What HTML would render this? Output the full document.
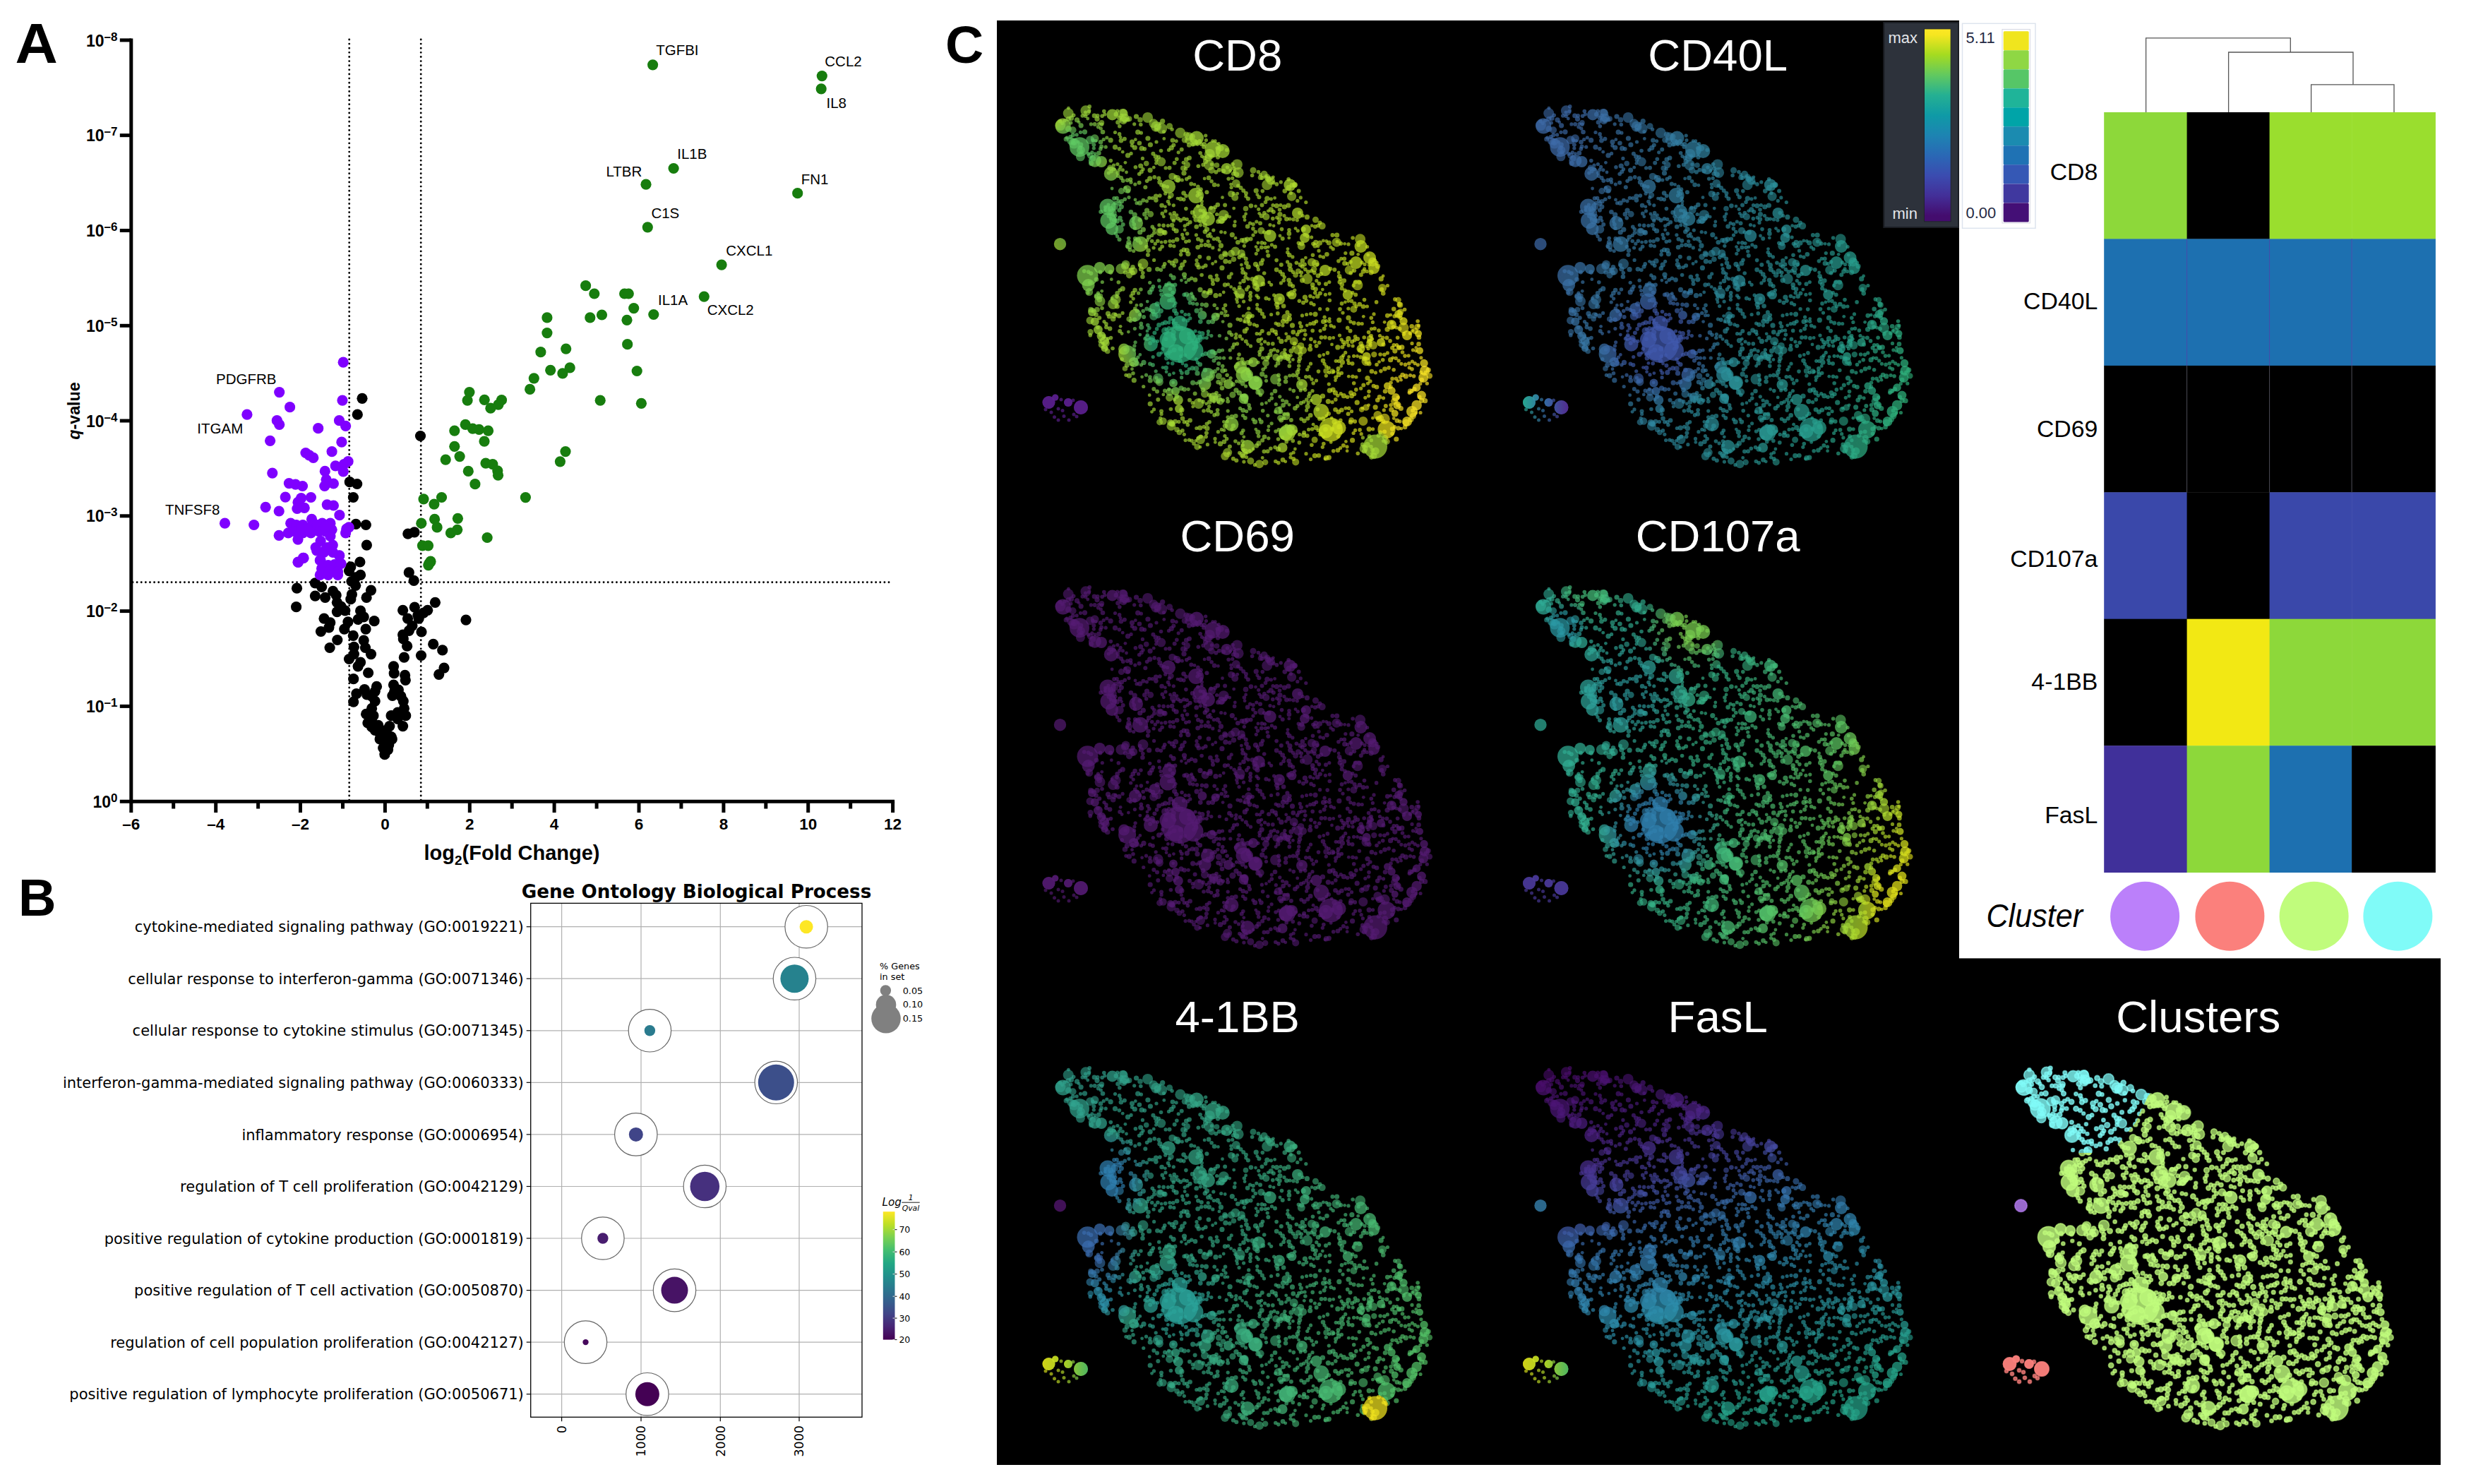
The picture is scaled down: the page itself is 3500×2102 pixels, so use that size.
<!DOCTYPE html>
<html><head><meta charset="utf-8"><title>Figure</title>
<style>html,body{margin:0;padding:0;background:#fff}svg{display:block}text{font-family:"Liberation Sans",Arial,Helvetica,sans-serif}.dj{font-family:"DejaVu Sans","Liberation Sans",sans-serif}</style></head><body>
<svg width="3500" height="2102" viewBox="0 0 3500 2102">
<rect width="3500" height="2102" fill="#fff"/>
<defs><linearGradient id="virV" x1="0" y1="1" x2="0" y2="0"><stop offset="0" stop-color="#440154"/><stop offset="0.1" stop-color="#482475"/><stop offset="0.2" stop-color="#414487"/><stop offset="0.3" stop-color="#355f8d"/><stop offset="0.4" stop-color="#2a788e"/><stop offset="0.5" stop-color="#21918c"/><stop offset="0.6" stop-color="#22a884"/><stop offset="0.7" stop-color="#44bf70"/><stop offset="0.8" stop-color="#7ad151"/><stop offset="0.9" stop-color="#bddf26"/><stop offset="1" stop-color="#fde725"/></linearGradient>
<linearGradient id="mapV" x1="0" y1="0" x2="0" y2="1"><stop offset="0" stop-color="#fde725"/><stop offset="0.030" stop-color="#f6e620"/><stop offset="0.134" stop-color="#a5db20"/><stop offset="0.239" stop-color="#62c95f"/><stop offset="0.343" stop-color="#25b092"/><stop offset="0.448" stop-color="#0f9aa6"/><stop offset="0.552" stop-color="#1d84b2"/><stop offset="0.657" stop-color="#2a68b5"/><stop offset="0.761" stop-color="#3b4cb0"/><stop offset="0.866" stop-color="#432f98"/><stop offset="0.970" stop-color="#440c6e"/></linearGradient>
<g id="dots" fill="#fff"><g fill-opacity=".66"><circle cx="1735.5" cy="432.3" r="2.8"/><circle cx="1733.1" cy="437.2" r="2.6"/><circle cx="1736.0" cy="441.2" r="2.6"/><circle cx="1739.0" cy="446.8" r="2.4"/><circle cx="1735.8" cy="524.5" r="2.6"/><circle cx="1741.7" cy="370.9" r="2.8"/><circle cx="1735.9" cy="370.2" r="3.6"/><circle cx="1788.1" cy="623.8" r="3.0"/><circle cx="1552.1" cy="199.5" r="2.4"/><circle cx="1548.0" cy="198.7" r="2.8"/><circle cx="1694.6" cy="509.1" r="2.8"/><circle cx="1696.4" cy="513.6" r="2.6"/><circle cx="1699.7" cy="516.3" r="3.3"/><circle cx="1625.9" cy="196.0" r="3.6"/><circle cx="1732.9" cy="242.2" r="3.3"/><circle cx="1608.0" cy="282.9" r="2.4"/><circle cx="1610.1" cy="287.7" r="2.6"/><circle cx="1614.6" cy="287.5" r="3.6"/><circle cx="1619.4" cy="283.8" r="3.0"/><circle cx="1624.4" cy="284.8" r="2.6"/><circle cx="1628.0" cy="280.5" r="2.8"/><circle cx="1807.3" cy="572.7" r="2.6"/><circle cx="1616.3" cy="458.4" r="2.8"/><circle cx="1616.7" cy="463.5" r="3.6"/><circle cx="1550.0" cy="163.9" r="3.3"/><circle cx="1554.0" cy="168.6" r="3.6"/><circle cx="1616.3" cy="432.1" r="2.8"/><circle cx="1609.9" cy="432.3" r="2.4"/><circle cx="1607.8" cy="437.0" r="2.8"/><circle cx="1610.8" cy="440.5" r="3.0"/><circle cx="1614.7" cy="445.7" r="2.6"/><circle cx="1620.1" cy="449.1" r="3.0"/><circle cx="1513.4" cy="153.2" r="2.4"/><circle cx="1887.0" cy="607.6" r="3.0"/><circle cx="1974.2" cy="592.6" r="2.4"/><circle cx="1978.8" cy="595.7" r="3.3"/><circle cx="1982.9" cy="596.9" r="2.6"/><circle cx="1882.3" cy="344.0" r="3.6"/><circle cx="1878.7" cy="341.5" r="2.4"/><circle cx="1874.3" cy="341.0" r="2.4"/><circle cx="1869.4" cy="344.2" r="3.6"/><circle cx="1863.7" cy="343.3" r="3.6"/><circle cx="1860.0" cy="345.3" r="2.8"/><circle cx="1770.6" cy="532.2" r="3.6"/><circle cx="1768.1" cy="528.2" r="3.3"/><circle cx="1767.4" cy="523.5" r="3.3"/><circle cx="1601.3" cy="254.3" r="3.0"/><circle cx="1596.9" cy="255.3" r="3.0"/><circle cx="1873.3" cy="633.3" r="2.6"/><circle cx="1874.8" cy="628.6" r="2.8"/><circle cx="1771.5" cy="490.2" r="2.6"/><circle cx="1767.3" cy="487.6" r="2.4"/><circle cx="1764.8" cy="483.4" r="3.0"/><circle cx="1759.5" cy="480.4" r="2.4"/><circle cx="1756.3" cy="476.4" r="2.8"/><circle cx="1750.4" cy="478.5" r="2.8"/><circle cx="1552.7" cy="419.7" r="2.8"/><circle cx="1555.4" cy="415.1" r="2.6"/><circle cx="1560.7" cy="412.3" r="2.4"/><circle cx="1678.7" cy="503.1" r="2.6"/><circle cx="1672.9" cy="504.8" r="2.8"/><circle cx="1671.4" cy="511.0" r="3.3"/><circle cx="1675.0" cy="515.0" r="2.4"/><circle cx="1679.9" cy="517.7" r="3.0"/><circle cx="1603.8" cy="515.8" r="3.3"/><circle cx="1780.5" cy="551.3" r="2.4"/><circle cx="1781.9" cy="555.4" r="3.6"/><circle cx="1785.4" cy="559.3" r="2.8"/><circle cx="1673.0" cy="549.8" r="3.6"/><circle cx="1612.6" cy="415.2" r="2.6"/><circle cx="1615.9" cy="410.0" r="2.8"/><circle cx="1944.6" cy="607.8" r="2.6"/><circle cx="1939.2" cy="607.8" r="3.6"/><circle cx="1762.5" cy="455.7" r="2.4"/><circle cx="1921.1" cy="433.9" r="2.6"/><circle cx="1925.8" cy="431.0" r="3.3"/><circle cx="1931.0" cy="434.2" r="3.3"/><circle cx="1936.4" cy="434.0" r="2.6"/><circle cx="1633.2" cy="505.6" r="2.6"/><circle cx="1666.1" cy="327.0" r="3.6"/><circle cx="1662.4" cy="324.5" r="2.8"/><circle cx="1660.1" cy="319.1" r="3.3"/><circle cx="1654.4" cy="319.6" r="2.6"/><circle cx="1648.1" cy="319.4" r="2.8"/><circle cx="1641.9" cy="318.8" r="2.6"/><circle cx="1926.1" cy="608.9" r="2.8"/><circle cx="1919.6" cy="609.4" r="2.6"/><circle cx="1917.1" cy="613.5" r="2.6"/><circle cx="1937.7" cy="361.1" r="2.4"/><circle cx="1685.0" cy="566.8" r="3.0"/><circle cx="1689.4" cy="570.7" r="2.8"/><circle cx="1689.7" cy="576.1" r="2.4"/><circle cx="1768.7" cy="436.9" r="2.6"/><circle cx="1545.4" cy="175.9" r="2.6"/><circle cx="1550.7" cy="176.1" r="3.0"/><circle cx="1556.3" cy="175.3" r="2.4"/><circle cx="1560.5" cy="176.2" r="2.8"/><circle cx="1888.2" cy="352.7" r="2.6"/><circle cx="1885.0" cy="350.0" r="2.6"/><circle cx="1952.9" cy="468.1" r="2.8"/><circle cx="1947.0" cy="465.3" r="2.8"/><circle cx="1942.5" cy="465.8" r="2.6"/><circle cx="1864.5" cy="539.1" r="2.6"/><circle cx="1684.0" cy="472.9" r="2.8"/><circle cx="1684.6" cy="478.7" r="3.0"/><circle cx="1688.5" cy="482.2" r="2.6"/><circle cx="1692.0" cy="485.9" r="3.6"/><circle cx="1694.2" cy="491.3" r="3.3"/><circle cx="1691.0" cy="494.1" r="2.6"/><circle cx="1598.7" cy="337.5" r="2.8"/><circle cx="1765.0" cy="642.1" r="2.6"/><circle cx="1770.1" cy="638.6" r="2.6"/><circle cx="1775.2" cy="635.9" r="2.4"/><circle cx="1779.8" cy="631.4" r="3.3"/><circle cx="1782.9" cy="627.9" r="3.6"/><circle cx="1646.1" cy="349.3" r="2.8"/><circle cx="1643.0" cy="353.0" r="2.8"/><circle cx="1806.5" cy="470.0" r="3.3"/><circle cx="1802.0" cy="467.9" r="3.3"/><circle cx="1797.1" cy="472.3" r="3.0"/><circle cx="1723.3" cy="390.0" r="2.6"/><circle cx="1724.2" cy="395.8" r="3.6"/><circle cx="1684.6" cy="223.7" r="3.3"/><circle cx="1680.3" cy="225.9" r="3.3"/><circle cx="1676.2" cy="230.3" r="2.6"/><circle cx="1969.9" cy="547.9" r="2.8"/><circle cx="1970.0" cy="542.1" r="2.8"/><circle cx="1972.1" cy="536.4" r="2.8"/><circle cx="1977.5" cy="536.2" r="2.8"/><circle cx="1980.0" cy="539.7" r="2.4"/><circle cx="1984.5" cy="538.2" r="2.4"/><circle cx="1787.8" cy="469.0" r="3.0"/><circle cx="1784.5" cy="472.8" r="2.6"/><circle cx="1780.1" cy="472.7" r="2.6"/><circle cx="1940.8" cy="540.0" r="2.8"/><circle cx="1937.5" cy="543.1" r="2.6"/><circle cx="1931.3" cy="545.5" r="3.0"/><circle cx="1927.6" cy="550.2" r="2.6"/><circle cx="1536.5" cy="186.8" r="3.6"/><circle cx="1530.5" cy="187.3" r="2.6"/><circle cx="1525.1" cy="190.9" r="2.6"/><circle cx="1519.8" cy="191.3" r="3.0"/><circle cx="1516.2" cy="194.1" r="3.0"/><circle cx="1511.3" cy="195.2" r="2.6"/><circle cx="1811.3" cy="608.7" r="2.8"/><circle cx="1807.1" cy="611.0" r="2.8"/><circle cx="1806.0" cy="554.0" r="3.3"/><circle cx="1801.3" cy="558.1" r="2.6"/><circle cx="1801.3" cy="564.1" r="2.8"/><circle cx="1797.8" cy="567.4" r="2.4"/><circle cx="1793.4" cy="570.7" r="2.4"/><circle cx="1787.4" cy="572.2" r="2.6"/><circle cx="1785.0" cy="316.3" r="3.0"/><circle cx="1779.8" cy="314.0" r="2.6"/><circle cx="1719.4" cy="510.8" r="3.0"/><circle cx="1723.0" cy="507.1" r="3.0"/><circle cx="1728.0" cy="507.2" r="2.6"/><circle cx="1733.5" cy="507.2" r="2.6"/><circle cx="1713.3" cy="569.5" r="3.3"/><circle cx="1719.6" cy="569.2" r="2.4"/><circle cx="1725.5" cy="569.2" r="2.6"/><circle cx="1583.9" cy="249.2" r="2.8"/><circle cx="1583.2" cy="245.0" r="2.8"/><circle cx="1585.3" cy="240.5" r="2.6"/><circle cx="1620.0" cy="513.4" r="3.6"/><circle cx="1616.5" cy="516.8" r="2.6"/><circle cx="1610.3" cy="514.8" r="3.6"/><circle cx="1608.5" cy="509.8" r="3.3"/><circle cx="1611.8" cy="506.0" r="2.6"/><circle cx="1614.8" cy="502.4" r="2.4"/><circle cx="1917.7" cy="542.7" r="2.8"/><circle cx="1625.9" cy="361.0" r="3.0"/><circle cx="1889.5" cy="463.0" r="2.6"/><circle cx="1885.2" cy="461.2" r="2.8"/><circle cx="1883.2" cy="455.3" r="2.6"/><circle cx="1878.4" cy="454.6" r="2.6"/><circle cx="1876.1" cy="449.2" r="2.6"/><circle cx="1914.9" cy="358.7" r="3.6"/><circle cx="1660.1" cy="183.2" r="2.6"/><circle cx="1740.5" cy="642.0" r="2.4"/><circle cx="1747.7" cy="295.1" r="2.4"/><circle cx="1877.5" cy="608.3" r="3.3"/><circle cx="2002.6" cy="532.8" r="2.8"/><circle cx="1997.6" cy="531.6" r="2.6"/><circle cx="1991.3" cy="532.9" r="3.6"/><circle cx="1986.6" cy="531.1" r="3.3"/><circle cx="1983.1" cy="533.9" r="2.6"/><circle cx="1725.6" cy="541.2" r="3.3"/><circle cx="1729.3" cy="543.8" r="2.8"/><circle cx="1731.0" cy="549.7" r="3.3"/><circle cx="1826.3" cy="518.4" r="2.8"/><circle cx="1826.9" cy="512.7" r="2.4"/><circle cx="1824.6" cy="508.7" r="2.8"/><circle cx="1824.0" cy="504.3" r="3.3"/><circle cx="1820.1" cy="501.2" r="2.8"/><circle cx="1819.8" cy="495.5" r="2.6"/><circle cx="1653.6" cy="264.5" r="2.6"/><circle cx="1649.0" cy="263.6" r="2.8"/><circle cx="1645.0" cy="262.0" r="2.8"/><circle cx="1642.9" cy="258.0" r="3.6"/><circle cx="1641.3" cy="252.4" r="3.0"/><circle cx="1635.2" cy="250.9" r="2.8"/><circle cx="1975.9" cy="423.9" r="2.8"/><circle cx="1812.8" cy="561.8" r="2.6"/><circle cx="1816.6" cy="567.0" r="2.6"/><circle cx="1821.9" cy="569.4" r="3.3"/><circle cx="1826.1" cy="573.3" r="2.4"/><circle cx="1673.7" cy="211.7" r="3.0"/><circle cx="1669.2" cy="215.8" r="2.6"/><circle cx="1972.0" cy="614.2" r="2.8"/><circle cx="1972.1" cy="607.6" r="3.3"/><circle cx="1975.5" cy="604.7" r="2.6"/><circle cx="1980.6" cy="606.5" r="3.3"/><circle cx="1984.9" cy="607.1" r="2.4"/><circle cx="1990.1" cy="604.9" r="3.3"/><circle cx="1762.3" cy="348.3" r="2.6"/><circle cx="1657.7" cy="347.7" r="3.0"/><circle cx="1662.9" cy="348.7" r="2.6"/><circle cx="1796.4" cy="609.3" r="2.6"/><circle cx="1624.5" cy="298.1" r="3.6"/><circle cx="1621.4" cy="303.4" r="3.3"/><circle cx="1623.7" cy="308.8" r="2.8"/><circle cx="1760.0" cy="625.0" r="2.8"/><circle cx="1761.8" cy="618.8" r="2.4"/><circle cx="1758.7" cy="613.4" r="3.0"/><circle cx="1760.8" cy="609.7" r="2.8"/><circle cx="1840.8" cy="301.6" r="2.8"/><circle cx="1845.2" cy="305.5" r="2.6"/><circle cx="1851.4" cy="307.4" r="3.6"/><circle cx="1878.0" cy="402.2" r="3.0"/><circle cx="1882.8" cy="399.5" r="2.6"/><circle cx="1849.8" cy="286.6" r="2.6"/><circle cx="1813.9" cy="290.5" r="2.6"/><circle cx="1812.5" cy="297.0" r="2.8"/><circle cx="1894.2" cy="342.1" r="2.6"/><circle cx="1899.2" cy="345.0" r="3.0"/><circle cx="1904.6" cy="345.3" r="2.4"/><circle cx="1910.0" cy="345.9" r="2.6"/><circle cx="1850.5" cy="426.1" r="2.8"/><circle cx="1848.4" cy="421.0" r="3.6"/><circle cx="1733.4" cy="597.5" r="2.4"/><circle cx="1735.4" cy="603.3" r="3.6"/><circle cx="1733.9" cy="609.4" r="2.4"/><circle cx="1797.5" cy="423.8" r="2.4"/><circle cx="1793.4" cy="422.6" r="3.0"/><circle cx="1766.5" cy="339.1" r="3.6"/><circle cx="1771.6" cy="338.4" r="3.0"/><circle cx="1896.8" cy="453.4" r="3.6"/><circle cx="1790.7" cy="387.0" r="2.8"/><circle cx="1580.1" cy="445.4" r="2.6"/><circle cx="1856.2" cy="588.3" r="3.3"/><circle cx="1852.4" cy="592.7" r="3.0"/><circle cx="1882.3" cy="544.1" r="2.6"/><circle cx="1905.0" cy="411.4" r="2.8"/><circle cx="1605.7" cy="355.5" r="2.6"/><circle cx="1600.5" cy="353.8" r="3.0"/><circle cx="1596.9" cy="349.2" r="2.6"/><circle cx="1598.9" cy="343.3" r="3.6"/><circle cx="1609.5" cy="165.0" r="3.6"/><circle cx="1851.6" cy="617.3" r="3.0"/><circle cx="1847.1" cy="612.7" r="3.0"/><circle cx="1698.8" cy="313.0" r="2.8"/><circle cx="1694.0" cy="311.1" r="3.6"/><circle cx="1691.6" cy="306.6" r="2.8"/><circle cx="1689.1" cy="301.1" r="3.3"/><circle cx="1631.5" cy="583.3" r="2.4"/><circle cx="1634.5" cy="579.9" r="2.6"/><circle cx="1654.4" cy="514.4" r="2.4"/><circle cx="1660.7" cy="514.7" r="2.8"/><circle cx="1593.7" cy="385.7" r="3.0"/><circle cx="1604.6" cy="386.6" r="3.3"/><circle cx="1602.3" cy="382.9" r="3.6"/><circle cx="1604.5" cy="378.3" r="3.3"/><circle cx="1764.6" cy="302.9" r="2.4"/><circle cx="1762.4" cy="307.0" r="2.8"/><circle cx="1763.1" cy="311.7" r="2.4"/><circle cx="1965.3" cy="499.9" r="2.6"/><circle cx="1960.9" cy="502.2" r="2.8"/><circle cx="1955.1" cy="502.0" r="2.8"/><circle cx="1825.6" cy="396.7" r="3.3"/><circle cx="1827.3" cy="402.4" r="3.6"/><circle cx="1831.2" cy="405.2" r="3.0"/><circle cx="1833.9" cy="411.0" r="2.6"/><circle cx="1830.4" cy="416.6" r="2.6"/><circle cx="1825.5" cy="416.7" r="3.6"/><circle cx="1714.4" cy="392.2" r="3.3"/><circle cx="1717.7" cy="396.9" r="3.0"/><circle cx="1718.0" cy="401.9" r="3.0"/><circle cx="1637.9" cy="226.8" r="2.8"/><circle cx="1637.4" cy="231.4" r="2.4"/><circle cx="1637.4" cy="283.6" r="3.3"/><circle cx="1632.3" cy="280.7" r="2.6"/><circle cx="1647.0" cy="520.6" r="2.4"/><circle cx="1585.8" cy="178.7" r="2.8"/><circle cx="1583.5" cy="173.2" r="3.3"/><circle cx="1585.4" cy="167.0" r="3.3"/><circle cx="1588.6" cy="163.5" r="2.8"/><circle cx="1587.9" cy="199.2" r="3.3"/><circle cx="1587.1" cy="194.3" r="2.4"/><circle cx="1601.7" cy="428.0" r="2.6"/><circle cx="1605.2" cy="423.1" r="2.6"/><circle cx="1602.1" cy="419.2" r="2.6"/><circle cx="1604.8" cy="415.3" r="3.3"/><circle cx="1607.6" cy="411.0" r="3.3"/><circle cx="1629.1" cy="241.1" r="3.6"/><circle cx="1634.2" cy="237.2" r="2.4"/><circle cx="1922.2" cy="570.2" r="3.6"/><circle cx="1615.7" cy="344.0" r="2.8"/><circle cx="1612.3" cy="340.2" r="3.6"/><circle cx="1607.9" cy="338.0" r="3.0"/><circle cx="1608.4" cy="236.7" r="2.8"/><circle cx="1551.0" cy="217.6" r="2.4"/><circle cx="1556.4" cy="216.9" r="3.3"/><circle cx="1558.8" cy="210.9" r="2.8"/><circle cx="1802.8" cy="309.6" r="2.8"/><circle cx="1808.7" cy="308.2" r="2.6"/><circle cx="1812.4" cy="310.5" r="3.3"/><circle cx="1811.5" cy="315.4" r="2.6"/><circle cx="1678.1" cy="370.3" r="2.6"/><circle cx="1674.7" cy="375.2" r="3.6"/><circle cx="1672.3" cy="380.0" r="3.3"/><circle cx="1735.1" cy="290.4" r="3.0"/><circle cx="2023.2" cy="524.1" r="3.6"/><circle cx="2019.2" cy="527.3" r="2.6"/><circle cx="2012.9" cy="527.5" r="2.6"/><circle cx="1840.3" cy="626.9" r="2.8"/><circle cx="1628.2" cy="559.7" r="2.4"/><circle cx="1629.2" cy="572.0" r="3.6"/><circle cx="1857.7" cy="383.8" r="2.8"/><circle cx="1861.9" cy="386.4" r="2.8"/><circle cx="1867.0" cy="390.6" r="3.3"/><circle cx="1871.2" cy="387.9" r="3.0"/><circle cx="1606.3" cy="538.7" r="3.6"/><circle cx="1632.3" cy="321.2" r="2.8"/><circle cx="1634.8" cy="324.8" r="2.8"/><circle cx="1634.8" cy="329.8" r="2.8"/><circle cx="1631.7" cy="333.4" r="2.6"/><circle cx="1627.2" cy="335.9" r="3.3"/><circle cx="1625.1" cy="340.0" r="2.6"/><circle cx="1803.0" cy="290.7" r="2.6"/><circle cx="1808.3" cy="291.5" r="3.6"/><circle cx="1814.8" cy="374.9" r="3.0"/><circle cx="1864.6" cy="490.1" r="3.0"/><circle cx="1868.7" cy="485.3" r="2.8"/><circle cx="1844.7" cy="377.4" r="3.0"/><circle cx="1847.9" cy="374.6" r="3.0"/><circle cx="1959.5" cy="488.0" r="3.0"/><circle cx="1725.4" cy="262.4" r="2.4"/><circle cx="1720.1" cy="261.7" r="3.3"/><circle cx="1716.1" cy="256.7" r="2.8"/><circle cx="1712.1" cy="251.9" r="3.3"/><circle cx="1706.1" cy="252.9" r="2.4"/><circle cx="1558.4" cy="385.4" r="3.0"/><circle cx="1780.0" cy="418.8" r="2.6"/><circle cx="1561.0" cy="436.5" r="2.8"/><circle cx="1739.2" cy="582.1" r="2.6"/><circle cx="1587.1" cy="462.3" r="2.4"/><circle cx="1824.0" cy="352.6" r="2.4"/><circle cx="1823.8" cy="357.5" r="2.8"/><circle cx="1826.3" cy="361.2" r="3.3"/><circle cx="1830.9" cy="363.9" r="2.6"/><circle cx="1662.1" cy="393.3" r="3.6"/><circle cx="1658.3" cy="389.9" r="2.6"/><circle cx="1813.0" cy="334.0" r="2.4"/><circle cx="1816.7" cy="338.0" r="3.0"/><circle cx="1646.8" cy="494.1" r="2.8"/><circle cx="1663.6" cy="566.0" r="2.4"/><circle cx="1666.8" cy="561.6" r="3.3"/><circle cx="1988.3" cy="472.9" r="2.8"/><circle cx="1856.5" cy="650.6" r="2.6"/><circle cx="1695.8" cy="374.6" r="3.6"/><circle cx="1695.0" cy="368.7" r="2.6"/><circle cx="1699.3" cy="363.8" r="3.0"/><circle cx="1724.6" cy="338.4" r="3.3"/><circle cx="1719.3" cy="338.5" r="2.6"/><circle cx="1715.5" cy="335.3" r="2.4"/><circle cx="1711.1" cy="333.9" r="3.0"/><circle cx="1808.1" cy="382.1" r="3.3"/><circle cx="1813.3" cy="384.8" r="2.8"/><circle cx="1816.7" cy="388.5" r="3.3"/><circle cx="1819.3" cy="392.6" r="2.6"/><circle cx="1818.1" cy="397.3" r="2.8"/><circle cx="1814.4" cy="400.9" r="2.6"/><circle cx="1753.8" cy="263.1" r="2.8"/><circle cx="1757.5" cy="265.9" r="3.0"/><circle cx="1761.2" cy="269.9" r="3.0"/><circle cx="1764.9" cy="273.7" r="3.0"/><circle cx="1764.8" cy="278.1" r="2.6"/><circle cx="1767.9" cy="281.6" r="3.0"/><circle cx="1986.5" cy="499.0" r="2.8"/><circle cx="1990.0" cy="504.1" r="2.8"/><circle cx="1995.1" cy="503.8" r="2.6"/><circle cx="1650.7" cy="274.2" r="2.6"/><circle cx="1642.5" cy="406.2" r="2.6"/><circle cx="1644.0" cy="411.5" r="2.6"/><circle cx="1645.1" cy="417.2" r="2.8"/><circle cx="1909.9" cy="479.7" r="3.6"/><circle cx="1908.0" cy="484.4" r="2.8"/><circle cx="1902.6" cy="484.6" r="3.0"/><circle cx="1900.1" cy="481.0" r="2.6"/><circle cx="1897.5" cy="475.1" r="2.6"/><circle cx="2000.0" cy="486.4" r="2.6"/><circle cx="1950.0" cy="548.2" r="3.3"/><circle cx="1945.6" cy="546.7" r="3.0"/><circle cx="1937.0" cy="535.5" r="3.6"/><circle cx="1575.1" cy="422.7" r="2.4"/><circle cx="1715.2" cy="220.8" r="2.6"/><circle cx="1634.3" cy="445.6" r="3.0"/><circle cx="1633.0" cy="441.0" r="3.3"/><circle cx="1628.8" cy="439.1" r="2.8"/><circle cx="1624.3" cy="437.6" r="3.0"/><circle cx="1619.2" cy="440.5" r="2.8"/><circle cx="1859.2" cy="403.4" r="3.3"/><circle cx="1859.4" cy="407.9" r="3.0"/><circle cx="1863.5" cy="409.6" r="3.3"/><circle cx="1862.8" cy="414.8" r="2.8"/><circle cx="1696.7" cy="291.8" r="2.6"/><circle cx="1702.3" cy="289.4" r="2.4"/><circle cx="1702.3" cy="285.1" r="2.6"/><circle cx="1701.4" cy="280.6" r="2.6"/><circle cx="1696.2" cy="277.0" r="2.8"/><circle cx="1696.9" cy="272.1" r="2.6"/><circle cx="1566.9" cy="493.3" r="2.6"/><circle cx="1562.5" cy="492.1" r="2.6"/><circle cx="1562.3" cy="486.1" r="2.4"/><circle cx="1558.0" cy="483.6" r="2.6"/><circle cx="1929.1" cy="371.9" r="2.6"/><circle cx="1933.1" cy="374.4" r="2.6"/><circle cx="1932.6" cy="380.9" r="2.6"/><circle cx="1936.2" cy="384.4" r="2.6"/><circle cx="1942.1" cy="385.8" r="3.6"/><circle cx="1573.2" cy="385.6" r="3.3"/><circle cx="1932.6" cy="639.0" r="3.6"/><circle cx="1673.9" cy="580.7" r="3.6"/><circle cx="1673.3" cy="586.6" r="2.6"/><circle cx="1675.0" cy="592.7" r="3.3"/><circle cx="1677.4" cy="597.8" r="2.8"/><circle cx="1682.4" cy="601.8" r="2.8"/><circle cx="1969.0" cy="482.9" r="2.8"/><circle cx="1964.3" cy="478.5" r="3.0"/><circle cx="1958.7" cy="478.2" r="2.6"/><circle cx="1954.5" cy="475.5" r="2.6"/><circle cx="1891.4" cy="556.3" r="3.6"/><circle cx="1888.1" cy="552.0" r="3.6"/><circle cx="1883.3" cy="553.2" r="3.6"/><circle cx="1598.4" cy="470.1" r="2.4"/><circle cx="1677.0" cy="245.2" r="3.6"/><circle cx="1679.6" cy="239.2" r="2.6"/><circle cx="1873.5" cy="561.0" r="3.6"/><circle cx="1767.1" cy="320.7" r="3.3"/><circle cx="1770.6" cy="316.2" r="2.6"/><circle cx="1775.0" cy="317.6" r="2.8"/><circle cx="1774.9" cy="323.9" r="2.8"/><circle cx="1778.3" cy="328.5" r="2.8"/><circle cx="1775.0" cy="333.1" r="2.6"/><circle cx="1726.9" cy="353.9" r="2.4"/><circle cx="1729.4" cy="347.9" r="3.6"/><circle cx="1727.6" cy="342.3" r="2.4"/><circle cx="1842.6" cy="543.3" r="3.0"/><circle cx="1803.8" cy="300.0" r="3.0"/><circle cx="1800.2" cy="296.9" r="3.6"/><circle cx="1796.2" cy="298.8" r="2.4"/><circle cx="1790.9" cy="301.6" r="2.8"/><circle cx="1706.7" cy="319.0" r="3.3"/><circle cx="1709.5" cy="324.8" r="3.6"/><circle cx="1706.9" cy="328.3" r="3.3"/><circle cx="1900.5" cy="429.9" r="2.8"/><circle cx="1905.4" cy="427.9" r="2.4"/><circle cx="1909.8" cy="426.5" r="2.4"/><circle cx="1914.4" cy="426.4" r="2.8"/><circle cx="1918.6" cy="430.1" r="3.0"/><circle cx="1516.8" cy="173.9" r="2.6"/><circle cx="1742.1" cy="460.7" r="3.6"/><circle cx="1709.2" cy="478.6" r="2.6"/><circle cx="1704.7" cy="478.7" r="2.4"/><circle cx="1699.6" cy="477.9" r="3.3"/><circle cx="1696.6" cy="482.1" r="3.6"/><circle cx="1939.3" cy="515.3" r="3.3"/><circle cx="1935.0" cy="513.5" r="2.4"/><circle cx="1932.7" cy="508.1" r="3.6"/><circle cx="1927.3" cy="505.9" r="2.8"/><circle cx="1922.5" cy="504.5" r="2.4"/><circle cx="1917.6" cy="504.3" r="2.6"/><circle cx="1694.8" cy="606.5" r="2.6"/><circle cx="1699.7" cy="606.0" r="3.6"/><circle cx="1705.3" cy="604.6" r="2.8"/><circle cx="1807.1" cy="518.4" r="2.4"/><circle cx="1810.1" cy="514.4" r="3.3"/><circle cx="1810.2" cy="508.7" r="2.8"/><circle cx="1814.2" cy="505.9" r="2.8"/><circle cx="1819.5" cy="506.1" r="3.6"/><circle cx="1900.2" cy="528.5" r="2.8"/><circle cx="1895.0" cy="526.4" r="2.6"/><circle cx="1895.5" cy="521.9" r="3.0"/><circle cx="1899.7" cy="518.5" r="2.4"/><circle cx="1901.4" cy="513.2" r="3.6"/><circle cx="1900.5" cy="506.8" r="3.6"/><circle cx="1923.7" cy="360.3" r="2.4"/><circle cx="1654.6" cy="500.3" r="3.3"/><circle cx="1658.5" cy="498.0" r="2.4"/><circle cx="1663.2" cy="495.8" r="3.3"/><circle cx="1959.2" cy="624.8" r="2.4"/><circle cx="1963.4" cy="626.1" r="2.4"/><circle cx="1755.1" cy="502.1" r="2.8"/><circle cx="1869.1" cy="504.1" r="2.8"/><circle cx="1874.8" cy="502.5" r="2.4"/><circle cx="1880.4" cy="499.9" r="2.8"/><circle cx="1613.6" cy="258.7" r="3.0"/><circle cx="1607.8" cy="261.1" r="2.6"/><circle cx="1602.0" cy="258.2" r="2.6"/><circle cx="1590.8" cy="256.0" r="3.0"/><circle cx="1588.1" cy="252.1" r="3.0"/><circle cx="1891.5" cy="538.8" r="2.4"/><circle cx="1892.2" cy="534.6" r="3.0"/><circle cx="1896.1" cy="530.9" r="3.3"/><circle cx="1888.9" cy="526.6" r="2.6"/><circle cx="1576.0" cy="493.5" r="2.8"/><circle cx="1716.4" cy="232.8" r="2.6"/><circle cx="1660.7" cy="600.8" r="3.6"/><circle cx="1664.6" cy="597.1" r="3.3"/><circle cx="1669.7" cy="597.5" r="2.8"/><circle cx="1681.2" cy="597.8" r="2.8"/><circle cx="1685.6" cy="595.5" r="3.3"/><circle cx="1824.9" cy="291.0" r="3.6"/><circle cx="1819.3" cy="293.0" r="3.6"/><circle cx="1843.1" cy="593.5" r="2.8"/><circle cx="1847.4" cy="596.1" r="3.3"/><circle cx="1809.8" cy="443.9" r="2.8"/><circle cx="1674.0" cy="441.5" r="2.8"/><circle cx="1678.9" cy="445.6" r="2.6"/><circle cx="1683.9" cy="445.7" r="2.6"/><circle cx="1685.8" cy="450.9" r="2.6"/><circle cx="1682.3" cy="453.9" r="2.8"/><circle cx="1676.4" cy="453.1" r="2.6"/><circle cx="1822.2" cy="625.7" r="2.8"/><circle cx="1594.0" cy="266.1" r="2.6"/><circle cx="1597.8" cy="270.5" r="3.3"/><circle cx="1791.5" cy="344.5" r="2.6"/><circle cx="1787.3" cy="343.9" r="2.8"/><circle cx="1781.9" cy="344.0" r="2.4"/><circle cx="1779.1" cy="349.6" r="2.4"/><circle cx="1781.5" cy="354.1" r="2.8"/><circle cx="1779.3" cy="359.3" r="2.6"/><circle cx="1573.3" cy="227.6" r="2.8"/><circle cx="1540.7" cy="168.0" r="2.4"/><circle cx="1537.7" cy="164.4" r="2.6"/><circle cx="1533.3" cy="164.0" r="2.8"/><circle cx="1696.0" cy="528.7" r="3.6"/><circle cx="1914.5" cy="582.7" r="2.6"/><circle cx="1909.6" cy="586.2" r="3.0"/><circle cx="1842.3" cy="279.9" r="2.6"/><circle cx="1837.8" cy="284.4" r="2.6"/><circle cx="1676.6" cy="273.6" r="3.3"/><circle cx="1680.1" cy="277.4" r="2.8"/><circle cx="1676.8" cy="282.6" r="2.8"/><circle cx="1672.3" cy="281.8" r="3.3"/><circle cx="1668.0" cy="281.1" r="2.4"/><circle cx="1783.4" cy="279.3" r="3.0"/><circle cx="1780.8" cy="275.7" r="2.4"/><circle cx="1779.2" cy="270.1" r="3.6"/><circle cx="1618.4" cy="392.0" r="3.3"/><circle cx="1618.8" cy="386.5" r="2.8"/><circle cx="1616.4" cy="381.0" r="3.6"/><circle cx="1614.6" cy="375.6" r="2.8"/><circle cx="1859.5" cy="361.2" r="2.8"/><circle cx="1739.2" cy="568.6" r="3.0"/><circle cx="1738.7" cy="564.3" r="2.4"/><circle cx="1806.8" cy="583.2" r="2.6"/><circle cx="1952.6" cy="617.0" r="3.0"/><circle cx="1955.3" cy="612.2" r="2.8"/><circle cx="1961.1" cy="611.5" r="3.0"/><circle cx="1831.6" cy="385.2" r="2.8"/><circle cx="1578.2" cy="281.1" r="3.0"/><circle cx="1579.9" cy="287.4" r="2.8"/><circle cx="1585.5" cy="288.5" r="3.3"/><circle cx="1588.3" cy="292.8" r="3.6"/><circle cx="1585.4" cy="297.8" r="3.0"/><circle cx="1573.5" cy="478.6" r="2.8"/><circle cx="1569.5" cy="479.6" r="2.6"/><circle cx="1732.1" cy="455.6" r="2.4"/><circle cx="1744.9" cy="607.8" r="2.6"/><circle cx="1746.9" cy="603.3" r="3.3"/><circle cx="1999.7" cy="462.3" r="3.3"/><circle cx="2000.6" cy="468.3" r="2.4"/><circle cx="1997.6" cy="472.0" r="2.8"/><circle cx="1663.7" cy="230.7" r="3.0"/><circle cx="1666.8" cy="225.3" r="2.8"/><circle cx="1545.6" cy="231.3" r="3.6"/><circle cx="1821.1" cy="540.5" r="3.3"/><circle cx="1821.3" cy="534.7" r="3.0"/><circle cx="1826.7" cy="532.0" r="2.6"/><circle cx="1831.7" cy="531.5" r="3.0"/><circle cx="1836.6" cy="531.9" r="2.6"/><circle cx="1839.5" cy="536.1" r="2.4"/><circle cx="1696.1" cy="204.3" r="2.6"/><circle cx="1996.4" cy="556.3" r="2.8"/><circle cx="1999.8" cy="553.8" r="3.0"/><circle cx="2003.3" cy="551.3" r="3.3"/><circle cx="1718.8" cy="326.1" r="2.6"/><circle cx="1746.5" cy="544.5" r="3.3"/><circle cx="1971.4" cy="457.1" r="2.6"/><circle cx="1973.5" cy="463.0" r="2.8"/><circle cx="1978.0" cy="464.0" r="2.6"/><circle cx="1982.5" cy="465.8" r="3.0"/><circle cx="1607.4" cy="323.2" r="2.6"/><circle cx="1606.4" cy="317.9" r="2.8"/><circle cx="1604.9" cy="313.8" r="2.4"/><circle cx="1605.4" cy="309.4" r="2.6"/><circle cx="1607.2" cy="304.2" r="3.6"/><circle cx="1601.9" cy="300.3" r="3.3"/><circle cx="1868.9" cy="593.3" r="2.8"/><circle cx="1874.0" cy="593.3" r="3.3"/><circle cx="1878.8" cy="589.1" r="2.4"/><circle cx="1882.0" cy="585.9" r="3.0"/><circle cx="1917.2" cy="404.4" r="2.6"/><circle cx="1919.8" cy="399.6" r="3.0"/><circle cx="1925.4" cy="399.8" r="3.3"/><circle cx="1613.9" cy="202.8" r="3.3"/><circle cx="1929.9" cy="629.4" r="3.0"/><circle cx="1931.9" cy="633.4" r="2.8"/><circle cx="1677.4" cy="417.4" r="3.0"/><circle cx="1559.2" cy="299.9" r="3.0"/><circle cx="1565.3" cy="298.0" r="2.4"/><circle cx="1565.8" cy="293.2" r="2.8"/><circle cx="1569.9" cy="290.0" r="2.6"/><circle cx="1615.8" cy="176.5" r="2.8"/><circle cx="1673.4" cy="397.1" r="2.4"/><circle cx="1678.0" cy="393.2" r="2.6"/><circle cx="1677.5" cy="389.0" r="3.6"/><circle cx="1717.8" cy="350.9" r="2.6"/><circle cx="1712.7" cy="347.8" r="3.3"/><circle cx="1711.2" cy="341.8" r="2.6"/><circle cx="1713.8" cy="331.2" r="2.4"/><circle cx="1780.6" cy="431.7" r="2.6"/><circle cx="1582.3" cy="434.0" r="3.6"/><circle cx="1908.1" cy="638.7" r="2.4"/><circle cx="1908.0" cy="632.8" r="2.6"/><circle cx="1902.9" cy="631.1" r="3.0"/><circle cx="1788.9" cy="402.2" r="3.3"/><circle cx="1651.5" cy="480.3" r="2.8"/><circle cx="1786.4" cy="372.9" r="3.6"/><circle cx="1788.5" cy="368.3" r="2.8"/><circle cx="1867.5" cy="526.1" r="2.8"/><circle cx="1868.0" cy="355.2" r="2.6"/><circle cx="1867.0" cy="348.8" r="2.4"/><circle cx="1862.8" cy="347.8" r="3.6"/><circle cx="1710.4" cy="629.7" r="2.6"/><circle cx="1931.3" cy="448.3" r="2.4"/><circle cx="1835.0" cy="323.6" r="2.4"/><circle cx="1821.7" cy="472.8" r="2.4"/><circle cx="1825.0" cy="478.1" r="3.6"/><circle cx="1821.4" cy="482.4" r="2.4"/><circle cx="1814.9" cy="483.4" r="3.6"/><circle cx="1811.2" cy="479.0" r="2.4"/><circle cx="1807.9" cy="473.5" r="2.4"/><circle cx="1705.0" cy="208.0" r="3.0"/><circle cx="1701.6" cy="204.3" r="2.8"/><circle cx="1699.2" cy="200.0" r="3.0"/><circle cx="1694.4" cy="201.1" r="2.8"/><circle cx="1689.3" cy="204.8" r="2.8"/><circle cx="1684.3" cy="205.4" r="3.3"/><circle cx="1955.9" cy="525.6" r="2.8"/><circle cx="2021.3" cy="543.2" r="2.6"/><circle cx="1655.7" cy="456.7" r="2.8"/><circle cx="1662.1" cy="457.0" r="2.8"/><circle cx="1664.5" cy="461.5" r="2.6"/><circle cx="1758.4" cy="375.1" r="2.4"/><circle cx="1759.6" cy="380.8" r="2.6"/><circle cx="1769.1" cy="573.9" r="2.8"/><circle cx="1764.8" cy="569.6" r="3.0"/><circle cx="1977.1" cy="507.5" r="2.8"/><circle cx="1972.8" cy="506.8" r="2.4"/><circle cx="1969.6" cy="509.7" r="3.6"/><circle cx="1786.4" cy="597.6" r="3.3"/><circle cx="1784.2" cy="593.9" r="2.4"/><circle cx="1652.0" cy="403.2" r="2.8"/><circle cx="1655.9" cy="401.4" r="3.0"/><circle cx="1660.1" cy="403.6" r="2.6"/><circle cx="1664.4" cy="403.4" r="3.0"/><circle cx="1614.7" cy="329.0" r="3.6"/><circle cx="1619.3" cy="325.2" r="3.6"/><circle cx="1704.0" cy="552.1" r="3.3"/><circle cx="1613.7" cy="246.5" r="2.8"/><circle cx="1616.8" cy="243.3" r="3.0"/><circle cx="1619.0" cy="239.7" r="2.6"/><circle cx="1615.7" cy="235.0" r="3.6"/><circle cx="1562.0" cy="187.0" r="3.3"/><circle cx="1559.3" cy="182.0" r="2.6"/><circle cx="1555.6" cy="179.8" r="2.8"/><circle cx="1980.2" cy="574.0" r="2.8"/><circle cx="1984.3" cy="578.5" r="3.6"/><circle cx="1640.4" cy="540.0" r="2.8"/><circle cx="1637.9" cy="535.1" r="2.6"/><circle cx="1897.1" cy="391.2" r="3.3"/><circle cx="1896.1" cy="386.0" r="2.4"/><circle cx="1856.5" cy="515.2" r="2.6"/><circle cx="1856.9" cy="567.2" r="2.4"/><circle cx="1853.1" cy="570.4" r="2.6"/><circle cx="1846.7" cy="569.2" r="2.6"/><circle cx="1842.8" cy="571.1" r="3.0"/><circle cx="1837.8" cy="575.1" r="2.8"/><circle cx="1834.4" cy="578.3" r="3.3"/><circle cx="1625.9" cy="460.5" r="2.8"/><circle cx="1627.8" cy="464.7" r="2.8"/><circle cx="1625.0" cy="468.9" r="2.4"/><circle cx="1625.3" cy="474.7" r="2.8"/><circle cx="1622.0" cy="479.8" r="2.8"/><circle cx="1688.1" cy="624.3" r="2.8"/><circle cx="1667.1" cy="339.3" r="3.3"/><circle cx="1661.7" cy="341.7" r="2.8"/><circle cx="1656.9" cy="341.6" r="2.6"/><circle cx="1650.7" cy="342.6" r="2.8"/><circle cx="1645.1" cy="343.2" r="2.4"/><circle cx="1639.9" cy="341.2" r="2.8"/><circle cx="1660.9" cy="198.8" r="3.3"/><circle cx="1666.1" cy="199.8" r="2.6"/><circle cx="1859.0" cy="553.7" r="2.6"/><circle cx="1855.0" cy="557.2" r="2.8"/><circle cx="1853.8" cy="561.4" r="2.8"/><circle cx="1850.8" cy="566.1" r="2.8"/><circle cx="1724.9" cy="522.3" r="2.6"/><circle cx="1720.8" cy="525.9" r="3.0"/><circle cx="1716.1" cy="527.9" r="2.6"/><circle cx="1715.3" cy="532.8" r="2.8"/><circle cx="1711.1" cy="536.0" r="3.6"/><circle cx="1786.6" cy="487.6" r="2.4"/><circle cx="1787.1" cy="494.1" r="3.6"/><circle cx="1784.3" cy="498.4" r="3.0"/><circle cx="1784.1" cy="502.7" r="2.6"/><circle cx="1788.4" cy="506.8" r="2.6"/><circle cx="2012.0" cy="584.5" r="2.6"/><circle cx="2005.5" cy="585.0" r="2.4"/><circle cx="2001.1" cy="581.4" r="3.0"/><circle cx="1858.1" cy="319.7" r="2.4"/><circle cx="1862.8" cy="320.9" r="3.0"/><circle cx="1867.1" cy="319.6" r="2.8"/><circle cx="1869.5" cy="315.5" r="3.0"/><circle cx="1918.2" cy="558.3" r="3.0"/><circle cx="1913.4" cy="556.3" r="3.3"/><circle cx="1774.9" cy="594.0" r="2.6"/><circle cx="1777.6" cy="597.5" r="3.6"/><circle cx="1501.5" cy="171.6" r="2.8"/><circle cx="1751.7" cy="247.1" r="3.6"/><circle cx="1748.7" cy="242.4" r="2.6"/><circle cx="1747.5" cy="238.2" r="3.0"/><circle cx="1746.0" cy="232.6" r="2.8"/><circle cx="1828.4" cy="273.4" r="2.6"/><circle cx="1599.0" cy="279.6" r="2.6"/><circle cx="1593.3" cy="282.3" r="2.8"/><circle cx="1588.7" cy="285.3" r="3.3"/><circle cx="1584.0" cy="284.5" r="2.6"/><circle cx="1582.0" cy="280.6" r="2.8"/><circle cx="1903.8" cy="397.5" r="3.3"/><circle cx="1900.7" cy="403.1" r="3.3"/><circle cx="1900.6" cy="408.6" r="3.0"/><circle cx="1683.2" cy="551.3" r="2.6"/><circle cx="1677.6" cy="551.5" r="3.3"/><circle cx="1771.9" cy="512.0" r="3.0"/><circle cx="1767.7" cy="513.5" r="3.6"/><circle cx="1761.7" cy="513.9" r="3.3"/><circle cx="1759.3" cy="509.1" r="3.0"/><circle cx="1753.7" cy="507.9" r="2.6"/><circle cx="1763.2" cy="560.7" r="2.6"/><circle cx="1758.6" cy="560.2" r="2.6"/><circle cx="1755.3" cy="556.6" r="3.6"/><circle cx="1750.9" cy="552.8" r="3.6"/><circle cx="1905.7" cy="499.4" r="2.6"/><circle cx="1902.8" cy="503.3" r="2.6"/><circle cx="1896.4" cy="511.5" r="2.8"/><circle cx="1892.2" cy="511.3" r="2.6"/><circle cx="1903.4" cy="560.7" r="3.6"/><circle cx="1908.6" cy="562.2" r="2.8"/><circle cx="1914.6" cy="561.0" r="3.3"/><circle cx="1920.8" cy="551.9" r="2.8"/><circle cx="1672.0" cy="524.8" r="2.4"/><circle cx="1844.5" cy="446.9" r="2.6"/><circle cx="1850.6" cy="445.5" r="2.6"/><circle cx="1856.5" cy="444.5" r="2.6"/><circle cx="1863.0" cy="445.1" r="3.6"/><circle cx="1949.6" cy="427.9" r="2.8"/><circle cx="1629.4" cy="205.0" r="3.6"/><circle cx="2001.4" cy="495.8" r="2.6"/><circle cx="1707.7" cy="192.1" r="2.6"/><circle cx="1708.4" cy="198.6" r="2.6"/><circle cx="1705.8" cy="204.3" r="3.3"/><circle cx="1656.5" cy="237.8" r="3.0"/><circle cx="1651.1" cy="237.9" r="2.6"/><circle cx="1752.7" cy="418.5" r="3.3"/><circle cx="1751.8" cy="423.8" r="2.8"/><circle cx="1752.5" cy="428.0" r="2.4"/><circle cx="1755.1" cy="433.6" r="2.6"/><circle cx="1634.6" cy="368.4" r="2.6"/><circle cx="1836.4" cy="372.2" r="2.8"/><circle cx="1842.0" cy="374.9" r="3.3"/><circle cx="1848.8" cy="381.6" r="2.8"/><circle cx="1852.9" cy="385.1" r="3.0"/><circle cx="1755.3" cy="364.4" r="2.8"/><circle cx="1760.6" cy="362.2" r="3.6"/><circle cx="1764.7" cy="366.6" r="3.0"/><circle cx="1765.5" cy="372.6" r="3.3"/><circle cx="1768.1" cy="378.0" r="3.6"/><circle cx="1639.2" cy="430.7" r="3.6"/><circle cx="1755.7" cy="407.1" r="3.0"/><circle cx="1756.5" cy="401.1" r="2.4"/><circle cx="1761.5" cy="398.0" r="3.3"/><circle cx="1593.9" cy="230.3" r="2.4"/><circle cx="1737.6" cy="621.6" r="2.8"/><circle cx="1734.9" cy="617.5" r="2.6"/><circle cx="1730.3" cy="608.4" r="2.6"/><circle cx="1725.4" cy="611.7" r="2.6"/><circle cx="1689.0" cy="521.5" r="3.3"/><circle cx="1829.9" cy="262.4" r="3.3"/><circle cx="1586.4" cy="308.8" r="3.3"/><circle cx="1637.4" cy="183.3" r="2.6"/><circle cx="1888.7" cy="478.4" r="2.4"/><circle cx="1883.4" cy="478.9" r="3.0"/><circle cx="1877.0" cy="477.9" r="2.8"/><circle cx="1871.6" cy="478.0" r="3.0"/><circle cx="1648.5" cy="186.5" r="2.6"/><circle cx="1644.4" cy="382.3" r="2.8"/><circle cx="1639.4" cy="381.3" r="3.3"/><circle cx="1817.4" cy="455.3" r="3.6"/><circle cx="1822.8" cy="455.8" r="2.8"/><circle cx="1826.4" cy="451.6" r="3.6"/><circle cx="1826.8" cy="446.2" r="2.8"/><circle cx="1823.4" cy="442.3" r="3.0"/><circle cx="1920.2" cy="417.4" r="3.0"/><circle cx="1915.9" cy="414.7" r="2.6"/><circle cx="1700.8" cy="618.6" r="3.0"/><circle cx="1697.1" cy="620.7" r="2.6"/><circle cx="1693.7" cy="624.4" r="2.4"/><circle cx="1691.0" cy="628.5" r="2.8"/><circle cx="1764.6" cy="547.0" r="2.6"/><circle cx="1760.2" cy="543.5" r="3.3"/><circle cx="1755.9" cy="541.2" r="2.4"/><circle cx="1751.5" cy="540.1" r="2.6"/><circle cx="1806.0" cy="349.6" r="3.0"/><circle cx="1801.4" cy="346.8" r="2.6"/><circle cx="1796.5" cy="349.8" r="2.4"/><circle cx="1531.8" cy="215.1" r="2.8"/><circle cx="1529.9" cy="209.3" r="3.3"/><circle cx="1530.8" cy="205.1" r="3.6"/><circle cx="1527.4" cy="201.2" r="2.4"/><circle cx="1521.1" cy="202.5" r="2.8"/><circle cx="1813.1" cy="423.3" r="2.8"/><circle cx="1735.1" cy="403.5" r="3.3"/><circle cx="1739.6" cy="402.8" r="2.6"/><circle cx="1743.6" cy="406.3" r="2.4"/><circle cx="1748.1" cy="409.3" r="2.8"/><circle cx="1750.0" cy="414.2" r="2.8"/><circle cx="1628.7" cy="400.3" r="2.6"/><circle cx="1983.8" cy="450.2" r="3.0"/><circle cx="1980.6" cy="446.4" r="2.8"/><circle cx="1975.2" cy="447.9" r="2.8"/><circle cx="1969.7" cy="446.2" r="2.4"/><circle cx="1965.2" cy="447.1" r="3.3"/><circle cx="1679.1" cy="623.6" r="2.6"/><circle cx="1684.4" cy="623.2" r="2.6"/><circle cx="1930.4" cy="619.9" r="2.6"/><circle cx="1928.2" cy="614.7" r="2.6"/><circle cx="1563.8" cy="157.5" r="2.8"/><circle cx="1564.9" cy="161.9" r="2.6"/><circle cx="1561.1" cy="164.3" r="2.8"/><circle cx="1554.7" cy="163.9" r="2.8"/><circle cx="1740.2" cy="253.3" r="2.8"/><circle cx="1745.7" cy="252.4" r="2.6"/><circle cx="1746.8" cy="246.3" r="3.0"/><circle cx="1742.5" cy="241.5" r="2.4"/><circle cx="1738.5" cy="236.9" r="2.6"/><circle cx="1800.6" cy="445.5" r="2.6"/><circle cx="1594.9" cy="531.3" r="2.6"/><circle cx="1599.4" cy="532.2" r="3.6"/><circle cx="1605.0" cy="528.7" r="2.8"/><circle cx="1603.5" cy="522.7" r="2.4"/><circle cx="1596.3" cy="517.1" r="3.6"/><circle cx="1887.4" cy="333.1" r="3.0"/><circle cx="1893.6" cy="333.0" r="3.6"/><circle cx="1628.9" cy="515.4" r="2.8"/><circle cx="1632.9" cy="516.9" r="3.0"/><circle cx="1860.1" cy="601.2" r="2.4"/><circle cx="1938.6" cy="573.8" r="2.4"/><circle cx="1668.6" cy="309.6" r="2.8"/><circle cx="1672.2" cy="311.9" r="3.0"/><circle cx="1677.0" cy="309.7" r="2.8"/><circle cx="1681.3" cy="310.7" r="2.6"/><circle cx="1685.6" cy="314.8" r="3.0"/><circle cx="1662.4" cy="528.6" r="2.4"/><circle cx="1656.5" cy="530.7" r="2.6"/><circle cx="1652.1" cy="526.7" r="2.4"/><circle cx="1651.6" cy="521.0" r="3.3"/><circle cx="1695.4" cy="430.7" r="2.8"/><circle cx="1689.9" cy="430.0" r="2.8"/><circle cx="1685.4" cy="428.9" r="2.8"/><circle cx="1915.5" cy="514.9" r="3.0"/><circle cx="1910.5" cy="514.2" r="2.8"/><circle cx="1909.3" cy="510.0" r="2.6"/><circle cx="1910.6" cy="505.4" r="2.4"/><circle cx="1543.9" cy="400.3" r="2.8"/><circle cx="2008.4" cy="516.8" r="2.6"/><circle cx="1763.8" cy="592.0" r="3.0"/><circle cx="1760.5" cy="588.6" r="2.6"/><circle cx="1839.4" cy="344.2" r="2.8"/><circle cx="1843.8" cy="345.0" r="3.6"/><circle cx="1960.3" cy="580.9" r="2.6"/><circle cx="1962.8" cy="574.9" r="3.0"/><circle cx="1843.6" cy="468.3" r="2.6"/><circle cx="1614.8" cy="474.1" r="2.4"/><circle cx="1885.2" cy="626.4" r="2.4"/><circle cx="1989.6" cy="438.5" r="2.8"/><circle cx="1724.6" cy="580.7" r="2.8"/><circle cx="1787.7" cy="529.9" r="3.6"/><circle cx="1792.9" cy="533.2" r="2.6"/><circle cx="1793.5" cy="539.3" r="2.6"/><circle cx="1722.0" cy="418.7" r="3.6"/><circle cx="1728.1" cy="417.7" r="2.6"/><circle cx="1733.2" cy="414.0" r="2.4"/><circle cx="1555.0" cy="463.7" r="2.8"/><circle cx="1711.9" cy="365.5" r="3.3"/><circle cx="1741.7" cy="307.1" r="2.4"/><circle cx="1737.3" cy="305.7" r="2.6"/><circle cx="1734.6" cy="309.5" r="3.3"/><circle cx="1730.4" cy="312.9" r="3.6"/><circle cx="1725.4" cy="313.7" r="3.3"/><circle cx="1859.2" cy="468.4" r="2.8"/><circle cx="1707.6" cy="376.2" r="3.0"/><circle cx="1703.7" cy="378.6" r="2.6"/><circle cx="1697.9" cy="378.5" r="3.3"/><circle cx="1846.1" cy="324.7" r="3.6"/><circle cx="1805.6" cy="280.4" r="2.4"/><circle cx="1800.4" cy="281.8" r="2.6"/><circle cx="1794.8" cy="281.2" r="3.6"/><circle cx="1792.5" cy="286.2" r="2.8"/><circle cx="1787.5" cy="290.5" r="3.0"/><circle cx="1929.2" cy="458.5" r="2.6"/><circle cx="1924.2" cy="458.5" r="3.0"/><circle cx="1917.7" cy="457.6" r="3.0"/><circle cx="1912.9" cy="455.7" r="2.6"/><circle cx="1910.0" cy="450.2" r="3.6"/><circle cx="1763.3" cy="468.9" r="3.6"/><circle cx="1766.3" cy="465.7" r="2.6"/><circle cx="1795.8" cy="588.6" r="2.6"/><circle cx="1895.6" cy="618.3" r="2.8"/><circle cx="1800.6" cy="403.3" r="2.6"/><circle cx="1797.7" cy="400.0" r="2.4"/><circle cx="1687.8" cy="415.6" r="2.4"/><circle cx="1689.7" cy="420.6" r="2.6"/><circle cx="1692.7" cy="423.9" r="2.6"/><circle cx="1655.8" cy="425.7" r="2.6"/><circle cx="1660.2" cy="424.9" r="3.6"/><circle cx="1665.0" cy="429.3" r="2.6"/><circle cx="1663.6" cy="433.3" r="2.8"/><circle cx="1663.7" cy="439.8" r="3.6"/><circle cx="1666.3" cy="444.2" r="3.3"/><circle cx="1737.7" cy="212.5" r="2.8"/><circle cx="1844.6" cy="397.1" r="3.6"/><circle cx="1842.8" cy="390.9" r="2.4"/><circle cx="1843.2" cy="386.1" r="2.8"/><circle cx="1629.2" cy="539.0" r="3.6"/><circle cx="1628.9" cy="534.0" r="2.8"/><circle cx="1623.5" cy="531.2" r="2.6"/><circle cx="1617.6" cy="533.8" r="2.4"/><circle cx="1731.5" cy="279.7" r="2.4"/><circle cx="1619.7" cy="547.5" r="2.6"/><circle cx="1750.3" cy="589.2" r="3.3"/><circle cx="1744.9" cy="590.2" r="3.3"/><circle cx="1739.2" cy="591.1" r="2.8"/><circle cx="1738.1" cy="596.9" r="2.6"/><circle cx="1962.0" cy="554.3" r="3.3"/><circle cx="1744.2" cy="387.8" r="2.6"/><circle cx="1741.1" cy="392.4" r="3.3"/><circle cx="1959.5" cy="563.8" r="2.6"/><circle cx="1954.0" cy="562.4" r="3.3"/><circle cx="1951.2" cy="566.8" r="3.3"/><circle cx="1820.8" cy="653.8" r="2.4"/><circle cx="1817.0" cy="651.4" r="3.3"/><circle cx="1681.6" cy="331.0" r="2.8"/><circle cx="1678.2" cy="325.7" r="2.4"/><circle cx="1678.2" cy="319.8" r="2.6"/><circle cx="1682.2" cy="317.6" r="2.6"/><circle cx="1558.9" cy="474.4" r="2.8"/><circle cx="1563.6" cy="476.4" r="2.8"/><circle cx="1913.1" cy="597.9" r="3.3"/><circle cx="1919.1" cy="597.1" r="3.0"/><circle cx="1974.1" cy="523.8" r="2.8"/><circle cx="1665.2" cy="250.2" r="2.6"/><circle cx="1668.5" cy="255.1" r="3.6"/><circle cx="1674.3" cy="255.0" r="2.6"/><circle cx="1680.8" cy="253.6" r="2.8"/><circle cx="1684.6" cy="251.2" r="2.8"/><circle cx="1880.2" cy="438.1" r="2.8"/><circle cx="1694.4" cy="332.8" r="2.6"/><circle cx="1697.0" cy="338.7" r="3.0"/><circle cx="1701.8" cy="341.0" r="3.0"/><circle cx="1625.2" cy="427.1" r="2.4"/><circle cx="1965.4" cy="404.5" r="2.6"/><circle cx="1926.1" cy="495.6" r="2.8"/><circle cx="1929.1" cy="498.8" r="2.4"/><circle cx="1773.6" cy="248.5" r="2.8"/><circle cx="1700.3" cy="455.6" r="3.3"/><circle cx="1606.6" cy="495.3" r="2.6"/><circle cx="1606.9" cy="489.9" r="2.6"/><circle cx="1608.1" cy="484.8" r="2.6"/><circle cx="1658.4" cy="579.5" r="2.8"/><circle cx="1866.3" cy="579.7" r="2.8"/><circle cx="1589.2" cy="508.7" r="2.8"/><circle cx="1810.5" cy="622.0" r="2.8"/><circle cx="1816.5" cy="619.7" r="2.6"/><circle cx="1633.4" cy="217.7" r="3.0"/><circle cx="1636.9" cy="221.7" r="3.3"/><circle cx="1641.1" cy="222.4" r="2.8"/><circle cx="1727.4" cy="475.5" r="2.6"/><circle cx="1647.8" cy="558.9" r="2.4"/><circle cx="1650.0" cy="553.4" r="3.0"/><circle cx="1655.6" cy="551.3" r="2.6"/><circle cx="1580.6" cy="330.7" r="2.8"/><circle cx="1582.6" cy="334.8" r="2.6"/><circle cx="1585.5" cy="339.3" r="3.0"/><circle cx="1742.2" cy="495.9" r="2.6"/><circle cx="1746.1" cy="492.1" r="2.8"/><circle cx="1748.0" cy="487.9" r="3.0"/><circle cx="1752.4" cy="487.0" r="2.8"/><circle cx="1938.0" cy="493.7" r="2.6"/><circle cx="1940.8" cy="489.2" r="2.8"/><circle cx="1939.8" cy="483.4" r="3.6"/><circle cx="1943.4" cy="480.3" r="2.8"/><circle cx="1941.9" cy="475.8" r="3.0"/><circle cx="1938.6" cy="470.6" r="2.8"/><circle cx="1697.3" cy="235.2" r="2.8"/><circle cx="1575.1" cy="267.0" r="2.4"/><circle cx="1638.0" cy="201.0" r="2.6"/><circle cx="1869.6" cy="437.7" r="2.6"/><circle cx="1717.7" cy="199.6" r="2.4"/><circle cx="1723.0" cy="556.6" r="2.8"/><circle cx="1727.1" cy="560.3" r="2.6"/><circle cx="1728.4" cy="565.6" r="2.8"/><circle cx="1732.3" cy="567.1" r="2.8"/><circle cx="1657.5" cy="303.0" r="2.4"/><circle cx="1663.2" cy="301.6" r="2.8"/><circle cx="1667.0" cy="304.7" r="2.4"/><circle cx="1662.2" cy="312.7" r="2.6"/><circle cx="1590.2" cy="408.9" r="3.6"/><circle cx="1586.2" cy="411.1" r="2.8"/><circle cx="1582.6" cy="415.4" r="3.3"/><circle cx="1582.0" cy="420.1" r="2.8"/><circle cx="1788.3" cy="270.6" r="2.8"/><circle cx="1761.6" cy="427.1" r="2.6"/><circle cx="1681.2" cy="354.7" r="3.6"/><circle cx="1682.9" cy="359.6" r="3.6"/><circle cx="1589.1" cy="472.5" r="2.4"/><circle cx="1586.2" cy="468.9" r="3.0"/><circle cx="1771.9" cy="291.6" r="3.3"/><circle cx="1778.5" cy="292.1" r="2.4"/><circle cx="1782.7" cy="296.3" r="2.6"/><circle cx="1783.7" cy="302.3" r="2.4"/><circle cx="1786.9" cy="305.7" r="3.3"/><circle cx="1883.3" cy="425.5" r="2.8"/><circle cx="1882.3" cy="648.1" r="3.6"/><circle cx="1877.0" cy="650.0" r="2.4"/><circle cx="2009.9" cy="477.9" r="3.3"/><circle cx="1564.0" cy="455.6" r="2.6"/><circle cx="1566.9" cy="458.9" r="2.8"/><circle cx="1567.0" cy="463.5" r="3.0"/><circle cx="1572.1" cy="465.5" r="3.3"/><circle cx="1648.8" cy="196.4" r="2.4"/><circle cx="1624.6" cy="256.3" r="2.8"/><circle cx="1628.7" cy="252.8" r="3.6"/><circle cx="1802.8" cy="486.9" r="2.8"/><circle cx="1796.4" cy="486.8" r="2.8"/><circle cx="1791.6" cy="484.0" r="2.6"/><circle cx="1786.8" cy="480.2" r="2.4"/><circle cx="1783.0" cy="482.3" r="3.6"/><circle cx="1904.7" cy="373.0" r="3.6"/><circle cx="1908.9" cy="373.7" r="2.6"/><circle cx="1913.0" cy="371.0" r="2.8"/><circle cx="1639.5" cy="483.3" r="2.6"/><circle cx="1634.0" cy="483.3" r="2.4"/><circle cx="1629.2" cy="486.1" r="3.0"/><circle cx="1929.6" cy="578.1" r="2.4"/><circle cx="1980.2" cy="562.9" r="2.6"/><circle cx="1621.3" cy="210.9" r="2.8"/><circle cx="1617.1" cy="210.2" r="3.6"/><circle cx="1804.6" cy="418.1" r="2.6"/><circle cx="1728.5" cy="628.7" r="3.6"/><circle cx="1733.9" cy="625.8" r="3.3"/><circle cx="1910.3" cy="533.2" r="2.4"/><circle cx="1796.3" cy="362.0" r="3.0"/><circle cx="1795.2" cy="356.0" r="2.6"/><circle cx="1792.5" cy="350.5" r="2.8"/><circle cx="1786.9" cy="350.5" r="3.0"/><circle cx="1833.7" cy="486.7" r="3.0"/><circle cx="1832.2" cy="492.3" r="2.6"/><circle cx="1829.0" cy="497.1" r="3.6"/><circle cx="1828.4" cy="503.5" r="2.4"/><circle cx="1831.4" cy="509.4" r="2.4"/><circle cx="1884.3" cy="380.8" r="3.0"/><circle cx="1890.3" cy="382.0" r="3.0"/><circle cx="1898.5" cy="395.1" r="3.0"/><circle cx="1897.8" cy="399.6" r="3.3"/><circle cx="1743.1" cy="535.5" r="2.6"/><circle cx="1738.1" cy="531.2" r="2.8"/><circle cx="1731.8" cy="524.9" r="3.6"/><circle cx="1731.7" cy="518.6" r="2.8"/><circle cx="1726.2" cy="514.9" r="3.0"/><circle cx="1831.8" cy="470.4" r="3.3"/><circle cx="1644.3" cy="440.3" r="3.6"/><circle cx="1649.0" cy="329.1" r="3.3"/><circle cx="1643.3" cy="327.0" r="3.6"/><circle cx="1622.3" cy="265.3" r="3.0"/><circle cx="1831.1" cy="605.9" r="2.8"/><circle cx="1574.3" cy="395.7" r="2.4"/><circle cx="1825.8" cy="336.9" r="2.4"/><circle cx="1825.9" cy="330.9" r="3.3"/><circle cx="1826.0" cy="325.7" r="2.8"/><circle cx="1649.7" cy="373.9" r="2.8"/><circle cx="1640.3" cy="566.0" r="3.0"/><circle cx="1715.3" cy="294.4" r="2.8"/><circle cx="1579.5" cy="208.4" r="3.6"/><circle cx="1585.4" cy="210.8" r="2.8"/><circle cx="1590.2" cy="215.2" r="2.4"/><circle cx="1689.6" cy="542.1" r="3.6"/><circle cx="1695.1" cy="543.0" r="2.4"/><circle cx="1699.3" cy="541.1" r="3.3"/><circle cx="1946.0" cy="444.9" r="2.6"/><circle cx="1942.3" cy="450.3" r="2.8"/><circle cx="1944.4" cy="456.4" r="2.6"/><circle cx="1811.0" cy="531.4" r="2.8"/><circle cx="1810.6" cy="636.2" r="3.6"/><circle cx="1806.1" cy="633.6" r="2.8"/><circle cx="1799.8" cy="635.3" r="2.8"/><circle cx="1795.5" cy="639.3" r="3.0"/><circle cx="1790.5" cy="639.4" r="3.0"/><circle cx="2009.4" cy="461.1" r="2.6"/><circle cx="2008.1" cy="455.0" r="2.8"/><circle cx="1545.3" cy="387.2" r="3.0"/><circle cx="1541.6" cy="385.1" r="2.8"/><circle cx="1535.7" cy="384.1" r="2.8"/><circle cx="1881.3" cy="568.6" r="3.6"/><circle cx="1887.1" cy="569.7" r="2.6"/><circle cx="1891.8" cy="565.9" r="2.8"/><circle cx="1894.8" cy="560.3" r="2.6"/><circle cx="1899.2" cy="557.7" r="2.6"/><circle cx="1842.2" cy="553.0" r="2.6"/><circle cx="1848.7" cy="552.1" r="2.8"/><circle cx="1781.1" cy="409.6" r="3.6"/><circle cx="1915.6" cy="623.7" r="3.6"/><circle cx="1681.3" cy="527.6" r="3.6"/><circle cx="1684.3" cy="522.8" r="2.6"/><circle cx="2012.9" cy="506.8" r="2.6"/><circle cx="1891.5" cy="580.3" r="3.3"/><circle cx="1895.9" cy="583.4" r="3.3"/><circle cx="1900.3" cy="580.7" r="3.3"/><circle cx="1906.0" cy="578.1" r="2.6"/><circle cx="1910.6" cy="578.2" r="2.8"/><circle cx="1755.8" cy="641.5" r="2.8"/><circle cx="1760.6" cy="645.9" r="3.6"/><circle cx="1765.6" cy="647.5" r="2.6"/><circle cx="1606.7" cy="175.8" r="2.6"/><circle cx="1878.3" cy="532.2" r="2.6"/><circle cx="1882.6" cy="527.6" r="2.6"/><circle cx="1882.1" cy="521.2" r="2.6"/><circle cx="1878.5" cy="519.0" r="2.6"/><circle cx="1876.0" cy="515.3" r="2.6"/><circle cx="1874.0" cy="510.7" r="3.3"/><circle cx="1780.4" cy="461.5" r="2.8"/><circle cx="1776.4" cy="459.8" r="2.6"/><circle cx="1770.2" cy="458.5" r="3.3"/><circle cx="1768.1" cy="454.4" r="2.6"/><circle cx="1769.1" cy="448.7" r="3.6"/><circle cx="1774.1" cy="447.6" r="2.8"/><circle cx="1909.8" cy="437.0" r="2.6"/><circle cx="1794.0" cy="250.6" r="2.4"/><circle cx="1724.8" cy="290.1" r="3.3"/><circle cx="1721.1" cy="293.4" r="2.8"/><circle cx="1645.0" cy="582.6" r="3.0"/><circle cx="1711.8" cy="456.1" r="3.3"/><circle cx="1717.5" cy="455.3" r="3.6"/><circle cx="1719.4" cy="449.3" r="2.8"/><circle cx="1725.1" cy="446.3" r="3.0"/><circle cx="1730.3" cy="443.5" r="2.8"/><circle cx="1735.1" cy="446.7" r="2.6"/><circle cx="1663.3" cy="376.2" r="2.8"/><circle cx="1660.3" cy="372.6" r="3.6"/><circle cx="1655.9" cy="370.3" r="2.4"/><circle cx="1648.1" cy="377.7" r="3.0"/><circle cx="1831.3" cy="624.4" r="2.8"/><circle cx="1731.5" cy="496.0" r="2.6"/><circle cx="1726.9" cy="497.0" r="3.3"/><circle cx="1721.5" cy="499.9" r="3.0"/><circle cx="1717.5" cy="498.2" r="3.6"/><circle cx="1841.3" cy="457.4" r="2.6"/><circle cx="1842.9" cy="462.6" r="3.0"/><circle cx="1933.8" cy="563.3" r="2.6"/><circle cx="1938.5" cy="560.8" r="2.6"/><circle cx="1939.0" cy="554.6" r="2.8"/><circle cx="1808.1" cy="368.6" r="2.8"/><circle cx="1673.6" cy="534.7" r="2.6"/><circle cx="1674.0" cy="528.3" r="2.8"/><circle cx="1912.5" cy="468.7" r="3.0"/><circle cx="1908.7" cy="464.4" r="2.8"/><circle cx="1723.6" cy="303.5" r="2.6"/><circle cx="1770.9" cy="424.5" r="2.6"/><circle cx="1771.0" cy="419.8" r="3.0"/><circle cx="1771.2" cy="414.9" r="2.8"/><circle cx="1710.2" cy="307.6" r="2.8"/><circle cx="1706.7" cy="302.5" r="3.3"/><circle cx="1704.4" cy="298.8" r="2.8"/><circle cx="1700.1" cy="298.0" r="2.6"/><circle cx="1879.4" cy="360.3" r="3.3"/><circle cx="1874.5" cy="364.2" r="2.6"/><circle cx="1869.9" cy="363.0" r="2.6"/><circle cx="1709.4" cy="272.3" r="3.0"/><circle cx="1573.1" cy="198.7" r="3.6"/><circle cx="1567.8" cy="195.0" r="2.6"/><circle cx="1563.2" cy="197.5" r="2.6"/><circle cx="1559.0" cy="201.3" r="3.3"/><circle cx="1560.1" cy="207.4" r="3.0"/><circle cx="1566.2" cy="208.2" r="2.6"/><circle cx="1628.7" cy="413.9" r="3.6"/><circle cx="1631.3" cy="409.9" r="3.3"/><circle cx="1633.4" cy="405.9" r="2.8"/><circle cx="1607.3" cy="209.0" r="3.6"/><circle cx="1603.4" cy="206.2" r="2.6"/><circle cx="1603.5" cy="201.0" r="3.6"/><circle cx="1608.3" cy="197.7" r="2.4"/><circle cx="2013.7" cy="538.0" r="3.3"/><circle cx="2011.8" cy="543.4" r="2.6"/><circle cx="1735.2" cy="329.5" r="2.4"/><circle cx="1729.7" cy="328.5" r="2.6"/><circle cx="1687.3" cy="260.5" r="3.0"/><circle cx="1692.0" cy="261.4" r="2.4"/><circle cx="1696.9" cy="264.4" r="2.8"/><circle cx="1700.8" cy="268.3" r="3.0"/><circle cx="1699.5" cy="274.7" r="3.0"/><circle cx="1548.3" cy="441.0" r="2.6"/><circle cx="1552.5" cy="445.8" r="3.3"/><circle cx="1557.2" cy="450.2" r="3.0"/><circle cx="1692.6" cy="557.5" r="3.0"/><circle cx="1742.8" cy="507.0" r="2.6"/><circle cx="1979.6" cy="478.2" r="2.8"/><circle cx="1700.0" cy="410.4" r="3.6"/><circle cx="1705.5" cy="413.5" r="2.4"/><circle cx="1710.6" cy="415.0" r="2.4"/><circle cx="1714.0" cy="411.7" r="3.6"/><circle cx="1663.9" cy="480.3" r="2.6"/><circle cx="1661.9" cy="475.8" r="3.6"/><circle cx="1577.6" cy="311.7" r="2.8"/><circle cx="1573.1" cy="309.5" r="2.4"/><circle cx="1570.8" cy="305.7" r="3.3"/><circle cx="1730.9" cy="379.4" r="3.6"/><circle cx="1896.9" cy="604.4" r="3.6"/><circle cx="1782.4" cy="381.8" r="2.6"/><circle cx="1781.3" cy="377.4" r="2.8"/><circle cx="1778.5" cy="374.3" r="3.6"/><circle cx="1957.1" cy="409.7" r="3.0"/><circle cx="1959.2" cy="415.6" r="3.3"/><circle cx="1905.8" cy="358.6" r="2.6"/><circle cx="1594.1" cy="495.0" r="2.6"/><circle cx="1990.6" cy="516.4" r="2.8"/><circle cx="1984.9" cy="515.3" r="2.6"/><circle cx="1981.2" cy="510.9" r="2.6"/><circle cx="1902.0" cy="443.1" r="2.6"/><circle cx="1898.0" cy="437.9" r="2.8"/><circle cx="1799.0" cy="318.5" r="2.6"/><circle cx="1804.1" cy="319.8" r="2.4"/><circle cx="1749.3" cy="313.9" r="2.4"/><circle cx="1748.6" cy="319.4" r="2.8"/><circle cx="1864.4" cy="455.3" r="2.8"/><circle cx="1860.8" cy="457.9" r="3.3"/><circle cx="1855.8" cy="458.7" r="2.6"/><circle cx="1851.3" cy="460.8" r="2.4"/><circle cx="1703.3" cy="502.6" r="2.8"/><circle cx="1707.7" cy="501.0" r="3.3"/><circle cx="2010.6" cy="562.4" r="3.0"/><circle cx="2013.6" cy="567.3" r="3.6"/><circle cx="2018.6" cy="567.7" r="3.6"/><circle cx="1595.5" cy="244.0" r="2.4"/><circle cx="1590.3" cy="240.8" r="2.6"/><circle cx="1587.1" cy="236.4" r="2.6"/><circle cx="1582.9" cy="232.5" r="2.6"/><circle cx="1577.5" cy="234.0" r="2.6"/><circle cx="1611.7" cy="187.2" r="3.6"/><circle cx="1616.4" cy="188.2" r="2.6"/><circle cx="1888.7" cy="638.7" r="2.8"/><circle cx="1894.9" cy="637.7" r="3.3"/><circle cx="1898.6" cy="634.5" r="2.6"/><circle cx="1906.4" cy="625.4" r="2.4"/><circle cx="1715.7" cy="583.4" r="2.6"/><circle cx="1720.1" cy="587.9" r="2.8"/><circle cx="1724.3" cy="586.4" r="3.3"/><circle cx="1956.2" cy="394.9" r="3.6"/><circle cx="1959.1" cy="390.9" r="2.4"/><circle cx="1695.1" cy="440.1" r="3.6"/><circle cx="1701.0" cy="438.1" r="2.6"/><circle cx="1932.2" cy="478.0" r="2.8"/><circle cx="1857.6" cy="336.1" r="2.6"/><circle cx="1851.9" cy="334.0" r="3.0"/><circle cx="1847.7" cy="332.8" r="2.4"/><circle cx="1838.3" cy="326.8" r="2.6"/><circle cx="1828.9" cy="595.0" r="3.0"/><circle cx="1942.4" cy="623.7" r="2.6"/><circle cx="1939.6" cy="618.1" r="3.0"/><circle cx="1855.6" cy="494.5" r="3.6"/><circle cx="1856.0" cy="489.4" r="2.6"/><circle cx="1641.6" cy="397.2" r="2.6"/><circle cx="1753.3" cy="343.3" r="3.3"/><circle cx="1672.4" cy="493.9" r="3.6"/><circle cx="1801.1" cy="599.8" r="2.6"/><circle cx="1797.0" cy="604.0" r="2.4"/><circle cx="1724.2" cy="209.8" r="2.8"/><circle cx="1726.2" cy="203.6" r="2.6"/><circle cx="1721.3" cy="199.7" r="2.4"/><circle cx="1590.1" cy="443.4" r="2.6"/><circle cx="1585.1" cy="447.4" r="3.3"/><circle cx="1654.5" cy="285.5" r="2.8"/><circle cx="1656.3" cy="279.8" r="2.6"/><circle cx="1642.9" cy="277.1" r="2.8"/><circle cx="1637.4" cy="278.0" r="3.6"/><circle cx="1597.3" cy="169.5" r="3.3"/><circle cx="1592.6" cy="171.5" r="2.8"/><circle cx="1588.1" cy="170.0" r="2.4"/><circle cx="1580.8" cy="162.0" r="3.3"/><circle cx="1582.7" cy="157.1" r="2.6"/><circle cx="1927.6" cy="486.5" r="3.3"/><circle cx="1929.7" cy="490.2" r="3.3"/><circle cx="1936.0" cy="490.6" r="2.6"/><circle cx="1965.0" cy="466.5" r="3.6"/><circle cx="1959.6" cy="596.6" r="2.8"/><circle cx="1570.3" cy="245.0" r="2.6"/><circle cx="1574.2" cy="242.6" r="2.8"/><circle cx="1577.7" cy="239.5" r="2.8"/><circle cx="1895.9" cy="369.7" r="2.8"/><circle cx="1899.7" cy="366.4" r="2.6"/><circle cx="1904.2" cy="366.4" r="3.0"/><circle cx="1607.1" cy="452.7" r="3.3"/><circle cx="1601.3" cy="454.5" r="2.8"/><circle cx="1756.5" cy="578.4" r="2.6"/><circle cx="1760.7" cy="581.3" r="3.3"/><circle cx="1765.6" cy="582.6" r="2.6"/><circle cx="1770.1" cy="578.5" r="3.0"/><circle cx="1644.5" cy="213.5" r="2.8"/><circle cx="1725.0" cy="222.7" r="3.0"/><circle cx="1614.5" cy="311.6" r="3.0"/><circle cx="1811.8" cy="544.5" r="3.0"/><circle cx="1812.1" cy="538.2" r="2.6"/><circle cx="1818.1" cy="433.5" r="3.3"/><circle cx="1814.3" cy="257.9" r="2.6"/><circle cx="1808.4" cy="260.9" r="2.8"/><circle cx="1803.8" cy="258.8" r="2.8"/><circle cx="1800.8" cy="254.3" r="2.4"/><circle cx="1803.4" cy="250.8" r="2.4"/><circle cx="1744.1" cy="265.6" r="2.6"/><circle cx="1743.5" cy="261.1" r="2.4"/><circle cx="1569.5" cy="444.2" r="3.6"/><circle cx="1571.1" cy="448.3" r="3.3"/><circle cx="1679.9" cy="295.6" r="2.8"/><circle cx="1950.9" cy="592.2" r="2.8"/><circle cx="1944.4" cy="592.2" r="2.4"/><circle cx="1886.5" cy="487.9" r="2.4"/><circle cx="1924.2" cy="347.2" r="2.6"/><circle cx="1702.1" cy="389.5" r="2.8"/><circle cx="1590.7" cy="318.1" r="3.0"/><circle cx="1588.6" cy="312.8" r="2.4"/><circle cx="1582.3" cy="313.1" r="3.6"/><circle cx="1579.9" cy="305.6" r="2.6"/><circle cx="1575.6" cy="303.3" r="2.6"/><circle cx="1741.9" cy="632.4" r="3.0"/><circle cx="1841.8" cy="501.8" r="3.6"/><circle cx="1841.0" cy="507.8" r="3.3"/><circle cx="1839.9" cy="511.9" r="2.8"/><circle cx="1839.7" cy="518.2" r="2.6"/><circle cx="1839.2" cy="523.3" r="2.6"/><circle cx="1837.8" cy="527.4" r="3.3"/><circle cx="1837.3" cy="311.8" r="2.6"/><circle cx="1832.0" cy="310.8" r="2.8"/><circle cx="1827.0" cy="310.1" r="2.6"/><circle cx="1822.4" cy="310.2" r="3.3"/><circle cx="1819.0" cy="305.6" r="2.6"/><circle cx="1812.9" cy="303.6" r="3.6"/><circle cx="1873.3" cy="410.1" r="2.4"/><circle cx="1869.9" cy="415.5" r="3.0"/><circle cx="1866.2" cy="419.8" r="3.3"/><circle cx="1860.5" cy="421.3" r="2.4"/><circle cx="1855.9" cy="419.5" r="2.8"/><circle cx="1672.6" cy="360.6" r="2.8"/><circle cx="1673.0" cy="355.5" r="2.6"/><circle cx="1676.9" cy="353.9" r="3.3"/><circle cx="1796.8" cy="329.2" r="3.6"/><circle cx="1790.7" cy="329.0" r="2.8"/><circle cx="1684.3" cy="341.3" r="2.6"/><circle cx="1679.8" cy="342.3" r="2.8"/><circle cx="1675.9" cy="337.4" r="2.8"/><circle cx="1674.6" cy="332.4" r="2.6"/><circle cx="1951.5" cy="377.1" r="3.6"/><circle cx="1806.8" cy="653.5" r="2.8"/><circle cx="1810.8" cy="655.6" r="2.8"/><circle cx="1839.6" cy="270.5" r="3.0"/><circle cx="1673.2" cy="464.2" r="2.8"/><circle cx="1668.5" cy="462.4" r="3.3"/><circle cx="1665.9" cy="457.8" r="2.4"/><circle cx="1662.1" cy="453.3" r="2.4"/><circle cx="1658.0" cy="451.2" r="3.6"/><circle cx="1698.7" cy="567.0" r="2.6"/><circle cx="1704.1" cy="568.9" r="2.8"/><circle cx="1708.7" cy="571.8" r="2.4"/><circle cx="1712.6" cy="575.7" r="2.6"/><circle cx="1711.2" cy="581.1" r="3.3"/><circle cx="1705.0" cy="582.0" r="2.8"/><circle cx="1857.9" cy="630.3" r="2.8"/><circle cx="1808.6" cy="431.1" r="3.6"/><circle cx="1809.5" cy="435.5" r="3.0"/><circle cx="1553.0" cy="395.7" r="3.3"/><circle cx="1768.3" cy="406.3" r="2.6"/><circle cx="1765.8" cy="409.9" r="2.8"/><circle cx="1782.3" cy="421.6" r="2.6"/><circle cx="1706.9" cy="524.1" r="3.3"/><circle cx="1711.4" cy="469.4" r="2.6"/><circle cx="1824.1" cy="586.4" r="2.8"/><circle cx="1874.9" cy="619.1" r="2.4"/><circle cx="1870.4" cy="615.0" r="3.3"/><circle cx="1867.1" cy="609.5" r="2.6"/><circle cx="1864.2" cy="605.7" r="3.6"/><circle cx="1858.6" cy="607.8" r="2.8"/><circle cx="1853.6" cy="608.4" r="2.6"/><circle cx="1781.9" cy="513.3" r="2.6"/><circle cx="1942.9" cy="526.0" r="3.3"/><circle cx="1948.4" cy="527.8" r="2.6"/><circle cx="1961.5" cy="522.5" r="3.3"/><circle cx="1967.1" cy="520.9" r="2.8"/><circle cx="1717.6" cy="373.5" r="2.4"/><circle cx="1721.8" cy="370.7" r="2.4"/><circle cx="1948.1" cy="576.8" r="3.6"/><circle cx="1737.1" cy="479.4" r="2.6"/><circle cx="1584.3" cy="399.7" r="2.8"/><circle cx="2009.5" cy="487.4" r="3.3"/><circle cx="2005.8" cy="492.5" r="2.4"/><circle cx="2005.5" cy="497.1" r="2.4"/><circle cx="1809.6" cy="497.2" r="2.6"/><circle cx="1804.9" cy="495.2" r="2.6"/><circle cx="1800.3" cy="497.0" r="3.0"/><circle cx="1798.9" cy="502.5" r="3.6"/><circle cx="1796.1" cy="506.2" r="2.8"/><circle cx="1713.0" cy="597.8" r="2.8"/><circle cx="1709.4" cy="600.3" r="2.8"/><circle cx="1709.9" cy="606.7" r="3.6"/><circle cx="1708.9" cy="613.2" r="3.0"/><circle cx="1708.2" cy="618.6" r="2.8"/><circle cx="1779.8" cy="393.7" r="2.6"/><circle cx="1774.0" cy="395.4" r="3.3"/><circle cx="1768.1" cy="395.0" r="2.6"/><circle cx="1764.3" cy="392.7" r="3.0"/><circle cx="1764.5" cy="387.8" r="2.6"/><circle cx="1760.6" cy="385.7" r="3.3"/><circle cx="1790.5" cy="448.9" r="2.6"/><circle cx="1787.9" cy="444.5" r="3.0"/><circle cx="1784.6" cy="439.7" r="3.3"/><circle cx="1780.8" cy="437.0" r="2.6"/><circle cx="1674.9" cy="609.9" r="2.8"/><circle cx="1677.3" cy="615.3" r="2.6"/><circle cx="1950.0" cy="516.5" r="2.8"/><circle cx="1953.5" cy="512.6" r="2.4"/><circle cx="1958.7" cy="509.8" r="2.8"/><circle cx="1662.3" cy="290.8" r="2.6"/><circle cx="1656.2" cy="289.2" r="2.4"/><circle cx="1741.4" cy="471.0" r="3.3"/><circle cx="1744.6" cy="474.2" r="2.8"/><circle cx="1750.8" cy="473.6" r="2.6"/><circle cx="1856.9" cy="480.4" r="2.8"/><circle cx="1862.4" cy="484.0" r="2.6"/><circle cx="1942.6" cy="647.6" r="3.3"/><circle cx="1943.3" cy="642.5" r="2.4"/><circle cx="1944.1" cy="637.4" r="3.0"/><circle cx="1942.0" cy="632.8" r="2.8"/><circle cx="1642.8" cy="174.8" r="2.4"/><circle cx="1646.7" cy="171.7" r="3.6"/><circle cx="1712.9" cy="559.5" r="3.0"/><circle cx="1717.3" cy="563.9" r="3.6"/><circle cx="1722.0" cy="563.6" r="3.6"/><circle cx="1541.5" cy="217.8" r="2.8"/><circle cx="1546.8" cy="215.8" r="2.6"/><circle cx="1549.3" cy="210.0" r="2.6"/><circle cx="1549.3" cy="205.1" r="3.0"/><circle cx="1693.0" cy="469.0" r="2.6"/><circle cx="1698.6" cy="470.6" r="2.4"/><circle cx="1702.8" cy="472.7" r="3.6"/><circle cx="1711.2" cy="474.0" r="2.4"/><circle cx="1715.8" cy="475.6" r="2.6"/><circle cx="1745.3" cy="332.6" r="3.6"/><circle cx="1750.0" cy="337.2" r="2.4"/><circle cx="1759.0" cy="340.4" r="3.3"/><circle cx="1868.4" cy="401.6" r="2.8"/><circle cx="1864.8" cy="397.7" r="2.6"/><circle cx="1627.6" cy="381.7" r="3.6"/><circle cx="1693.0" cy="396.4" r="3.3"/><circle cx="1687.8" cy="394.3" r="2.8"/><circle cx="1683.7" cy="396.5" r="2.8"/><circle cx="1679.9" cy="399.8" r="2.4"/><circle cx="1796.8" cy="620.8" r="2.6"/><circle cx="1791.0" cy="618.7" r="3.3"/><circle cx="1661.1" cy="414.2" r="2.8"/><circle cx="1657.4" cy="409.3" r="2.8"/><circle cx="1792.4" cy="520.6" r="2.4"/><circle cx="1789.1" cy="523.2" r="2.8"/><circle cx="1602.1" cy="217.4" r="2.6"/><circle cx="1597.5" cy="220.2" r="3.6"/><circle cx="1648.3" cy="306.8" r="2.4"/><circle cx="1942.0" cy="370.7" r="2.6"/><circle cx="1946.7" cy="368.9" r="2.8"/><circle cx="1950.0" cy="372.2" r="2.6"/><circle cx="1645.6" cy="291.0" r="3.3"/><circle cx="1650.4" cy="292.8" r="2.4"/><circle cx="1650.9" cy="298.9" r="2.6"/><circle cx="1646.3" cy="302.4" r="2.8"/><circle cx="1913.2" cy="386.7" r="2.8"/><circle cx="1918.2" cy="383.2" r="3.0"/><circle cx="1925.3" cy="524.5" r="2.8"/><circle cx="1696.6" cy="350.2" r="3.3"/><circle cx="1701.6" cy="347.4" r="2.8"/><circle cx="1707.4" cy="346.9" r="3.0"/><circle cx="1788.2" cy="648.5" r="2.4"/><circle cx="1832.2" cy="649.9" r="3.0"/><circle cx="1828.0" cy="647.8" r="2.6"/><circle cx="1828.3" cy="643.0" r="2.6"/><circle cx="1832.1" cy="641.0" r="2.6"/><circle cx="1834.4" cy="636.0" r="2.4"/><circle cx="1815.5" cy="324.6" r="2.8"/><circle cx="1920.9" cy="534.0" r="2.6"/><circle cx="1916.0" cy="533.2" r="2.8"/><circle cx="1782.4" cy="243.5" r="2.8"/><circle cx="1785.2" cy="247.4" r="2.4"/><circle cx="1787.5" cy="252.1" r="3.0"/><circle cx="1520.7" cy="163.2" r="2.8"/><circle cx="1517.5" cy="167.4" r="3.6"/><circle cx="1513.3" cy="168.5" r="3.6"/><circle cx="1507.9" cy="171.0" r="2.6"/><circle cx="1504.6" cy="174.9" r="2.4"/><circle cx="1837.7" cy="562.9" r="2.4"/><circle cx="1919.6" cy="476.7" r="2.8"/><circle cx="1923.2" cy="480.0" r="3.0"/><circle cx="1778.8" cy="608.1" r="2.4"/><circle cx="1781.8" cy="612.1" r="3.6"/><circle cx="1782.7" cy="617.8" r="2.8"/><circle cx="1750.3" cy="519.2" r="2.6"/><circle cx="1753.3" cy="515.8" r="2.6"/><circle cx="1561.3" cy="399.5" r="2.6"/><circle cx="1721.0" cy="621.4" r="2.6"/><circle cx="1721.3" cy="626.4" r="2.4"/><circle cx="1651.8" cy="467.0" r="2.4"/><circle cx="1655.7" cy="464.8" r="2.8"/><circle cx="1660.3" cy="465.2" r="2.6"/><circle cx="1662.1" cy="470.7" r="3.6"/><circle cx="1832.3" cy="553.6" r="2.8"/><circle cx="1827.2" cy="551.4" r="2.4"/><circle cx="1637.2" cy="525.8" r="2.6"/><circle cx="1720.2" cy="432.3" r="2.8"/><circle cx="1724.1" cy="436.9" r="2.4"/><circle cx="1823.6" cy="370.9" r="2.6"/><circle cx="1826.9" cy="375.7" r="3.6"/><circle cx="1827.7" cy="381.6" r="3.6"/><circle cx="1607.4" cy="465.6" r="2.6"/><circle cx="1541.0" cy="414.8" r="2.6"/><circle cx="1927.8" cy="389.3" r="3.0"/><circle cx="1931.0" cy="384.5" r="3.3"/><circle cx="1939.1" cy="375.3" r="2.4"/><circle cx="1975.8" cy="497.1" r="3.6"/><circle cx="1972.0" cy="492.7" r="3.0"/><circle cx="1974.3" cy="488.9" r="2.8"/><circle cx="1978.5" cy="488.7" r="2.6"/><circle cx="1981.5" cy="492.2" r="2.8"/><circle cx="1985.8" cy="491.9" r="3.6"/><circle cx="1970.8" cy="580.2" r="3.6"/><circle cx="1970.1" cy="573.8" r="2.8"/><circle cx="1661.7" cy="541.8" r="2.4"/><circle cx="1916.1" cy="490.0" r="2.6"/><circle cx="1910.2" cy="489.2" r="2.6"/><circle cx="1904.2" cy="487.8" r="2.4"/><circle cx="1641.6" cy="501.8" r="3.6"/><circle cx="1645.4" cy="499.8" r="2.4"/><circle cx="1651.2" cy="501.9" r="2.6"/><circle cx="1652.4" cy="507.3" r="3.3"/><circle cx="1974.2" cy="437.8" r="3.3"/><circle cx="1708.4" cy="432.1" r="3.6"/><circle cx="1702.5" cy="431.4" r="2.8"/><circle cx="1747.3" cy="274.0" r="2.6"/><circle cx="1752.7" cy="274.2" r="2.4"/><circle cx="1531.1" cy="177.8" r="3.6"/><circle cx="1528.2" cy="173.1" r="2.4"/><circle cx="1525.5" cy="169.8" r="3.6"/><circle cx="1961.1" cy="456.3" r="2.4"/><circle cx="1639.0" cy="554.4" r="3.0"/><circle cx="1634.3" cy="550.9" r="3.0"/><circle cx="1830.5" cy="460.9" r="3.6"/><circle cx="1819.8" cy="270.6" r="3.3"/><circle cx="1890.0" cy="597.4" r="3.6"/><circle cx="1886.2" cy="592.1" r="2.4"/><circle cx="1923.3" cy="642.3" r="2.8"/><circle cx="1851.7" cy="523.5" r="2.6"/><circle cx="1853.7" cy="519.7" r="2.4"/><circle cx="1694.7" cy="321.3" r="3.3"/><circle cx="1700.3" cy="318.8" r="2.6"/><circle cx="1936.6" cy="349.5" r="2.6"/><circle cx="1635.4" cy="471.4" r="3.0"/><circle cx="1638.6" cy="465.9" r="2.8"/><circle cx="1641.5" cy="460.4" r="3.3"/><circle cx="1646.6" cy="458.3" r="2.8"/><circle cx="1650.6" cy="456.9" r="3.3"/><circle cx="1847.3" cy="480.3" r="2.4"/><circle cx="1848.9" cy="474.0" r="2.8"/><circle cx="1848.1" cy="468.0" r="2.6"/><circle cx="1839.9" cy="469.9" r="2.8"/><circle cx="1837.6" cy="473.8" r="2.8"/><circle cx="1779.8" cy="537.5" r="3.6"/><circle cx="1746.8" cy="649.8" r="3.0"/><circle cx="1751.3" cy="652.2" r="3.0"/><circle cx="1761.9" cy="654.1" r="2.6"/><circle cx="1722.4" cy="243.7" r="3.0"/><circle cx="1726.9" cy="240.8" r="3.0"/><circle cx="1749.9" cy="625.0" r="2.8"/><circle cx="1754.6" cy="627.9" r="2.6"/><circle cx="1760.3" cy="630.6" r="2.6"/><circle cx="1761.1" cy="637.1" r="2.8"/><circle cx="1753.0" cy="452.1" r="2.6"/><circle cx="1757.2" cy="453.0" r="3.0"/><circle cx="1761.1" cy="447.6" r="2.4"/><circle cx="1700.1" cy="216.8" r="2.8"/><circle cx="1702.5" cy="221.3" r="2.6"/><circle cx="1706.2" cy="223.8" r="3.0"/><circle cx="1707.6" cy="228.6" r="3.6"/><circle cx="1704.2" cy="233.4" r="2.8"/><circle cx="1850.0" cy="642.7" r="2.6"/><circle cx="1807.1" cy="458.1" r="2.6"/><circle cx="1811.1" cy="459.7" r="3.3"/><circle cx="1816.9" cy="461.0" r="2.6"/><circle cx="1634.1" cy="351.0" r="2.6"/><circle cx="1636.3" cy="345.2" r="2.6"/><circle cx="1631.7" cy="341.5" r="2.8"/><circle cx="1579.5" cy="187.5" r="2.6"/><circle cx="1585.6" cy="189.9" r="2.8"/><circle cx="1592.9" cy="196.8" r="3.0"/><circle cx="1788.7" cy="581.8" r="2.8"/><circle cx="1643.7" cy="592.3" r="2.6"/><circle cx="1645.1" cy="586.5" r="2.6"/><circle cx="1982.2" cy="431.1" r="3.6"/><circle cx="1850.6" cy="581.2" r="2.6"/><circle cx="1852.1" cy="575.8" r="3.6"/><circle cx="1932.5" cy="424.6" r="2.8"/><circle cx="1883.3" cy="416.1" r="2.6"/><circle cx="1877.4" cy="417.3" r="2.6"/><circle cx="1623.9" cy="349.6" r="2.8"/><circle cx="1626.5" cy="354.8" r="3.3"/><circle cx="2000.0" cy="522.8" r="2.8"/><circle cx="1996.2" cy="520.8" r="2.6"/><circle cx="1995.8" cy="514.7" r="2.8"/><circle cx="2000.4" cy="512.1" r="2.6"/><circle cx="2004.2" cy="514.7" r="2.6"/><circle cx="1618.4" cy="224.4" r="2.6"/><circle cx="1655.5" cy="212.4" r="2.6"/><circle cx="1659.2" cy="209.4" r="3.6"/><circle cx="1662.3" cy="205.6" r="3.0"/><circle cx="1898.8" cy="595.2" r="2.8"/><circle cx="1865.9" cy="374.6" r="2.8"/><circle cx="1849.4" cy="365.1" r="2.4"/><circle cx="1844.9" cy="369.3" r="3.3"/><circle cx="1861.1" cy="431.5" r="2.6"/><circle cx="1857.1" cy="429.4" r="2.8"/><circle cx="1846.0" cy="428.8" r="3.0"/><circle cx="1840.4" cy="426.3" r="2.8"/><circle cx="1977.8" cy="622.0" r="3.6"/><circle cx="1867.9" cy="645.2" r="3.3"/><circle cx="1862.3" cy="645.5" r="3.6"/><circle cx="1894.8" cy="491.9" r="3.6"/><circle cx="1901.3" cy="491.5" r="3.0"/><circle cx="1915.1" cy="484.1" r="3.0"/><circle cx="1918.8" cy="481.8" r="2.8"/><circle cx="1543.2" cy="150.9" r="2.8"/><circle cx="1542.4" cy="157.5" r="2.6"/><circle cx="1537.6" cy="159.0" r="2.6"/><circle cx="1814.8" cy="595.3" r="3.3"/><circle cx="1818.4" cy="592.5" r="2.8"/><circle cx="1819.1" cy="586.5" r="2.8"/><circle cx="1814.0" cy="583.1" r="3.3"/><circle cx="1813.1" cy="578.0" r="2.8"/><circle cx="1817.6" cy="574.1" r="3.3"/><circle cx="1544.3" cy="474.7" r="2.8"/><circle cx="1870.1" cy="468.6" r="2.6"/><circle cx="1875.6" cy="465.8" r="3.0"/><circle cx="1877.7" cy="461.2" r="2.4"/><circle cx="1874.6" cy="455.5" r="3.6"/><circle cx="1883.2" cy="451.6" r="2.4"/><circle cx="1777.4" cy="658.4" r="2.6"/><circle cx="1699.9" cy="633.2" r="2.4"/><circle cx="1849.8" cy="533.8" r="2.8"/><circle cx="1854.7" cy="533.7" r="2.6"/><circle cx="1858.0" cy="537.2" r="2.6"/><circle cx="1860.2" cy="542.8" r="2.8"/><circle cx="1825.1" cy="253.9" r="2.8"/><circle cx="1834.1" cy="262.3" r="3.6"/><circle cx="1916.1" cy="337.0" r="2.8"/><circle cx="1822.2" cy="602.9" r="2.6"/><circle cx="1826.8" cy="603.8" r="2.8"/><circle cx="1835.9" cy="610.9" r="2.4"/><circle cx="1840.7" cy="615.4" r="2.6"/><circle cx="1846.7" cy="616.4" r="3.6"/><circle cx="1489" cy="584" r="2.5"/><circle cx="1493.5" cy="590.8" r="2.5"/><circle cx="1499" cy="595" r="2.5"/><circle cx="1507" cy="589.6" r="2.5"/><circle cx="1514" cy="595" r="2.5"/><circle cx="1521" cy="587" r="2.5"/><circle cx="1499" cy="579" r="2.5"/><circle cx="1505" cy="581.6" r="2.5"/><circle cx="1525" cy="590" r="2.5"/><circle cx="1481" cy="580" r="2.5"/><circle cx="1520" cy="567" r="2.5"/><circle cx="1503" cy="566" r="2.5"/></g><g fill-opacity=".6"><circle cx="1735.9" cy="360.5" r="3.8"/><circle cx="1730.1" cy="363.8" r="4.2"/><circle cx="1619.0" cy="373.8" r="7.5"/><circle cx="1825.4" cy="265.9" r="3.8"/><circle cx="1576.9" cy="311.8" r="5.5"/><circle cx="1926.6" cy="338.8" r="7.5"/><circle cx="1662.0" cy="308.1" r="5"/><circle cx="1810.2" cy="581.6" r="5.5"/><circle cx="1576.7" cy="451.7" r="3.8"/><circle cx="1578.0" cy="446.6" r="4.4"/><circle cx="1794.7" cy="261.8" r="7.5"/><circle cx="1820.9" cy="449.7" r="5.5"/><circle cx="1521.3" cy="203.1" r="7.5"/><circle cx="1786.4" cy="326.8" r="5"/><circle cx="1732.4" cy="538.2" r="3.8"/><circle cx="1726.3" cy="532.7" r="4.5"/><circle cx="1783.9" cy="657.2" r="6"/><circle cx="1745.9" cy="559.2" r="4.5"/><circle cx="1665.3" cy="369.8" r="3.8"/><circle cx="1671.8" cy="188.3" r="7.5"/><circle cx="1713.3" cy="218.4" r="7.5"/><circle cx="1711.3" cy="223.4" r="5.3"/><circle cx="1872.7" cy="320.1" r="5"/><circle cx="1670.4" cy="612.5" r="3.8"/><circle cx="1667.1" cy="608.5" r="3.8"/><circle cx="1519.6" cy="184.3" r="5"/><circle cx="1675.8" cy="238.2" r="3.8"/><circle cx="1681.3" cy="233.6" r="4.7"/><circle cx="1777.2" cy="400.7" r="4.2"/><circle cx="1778.8" cy="405.9" r="4.9"/><circle cx="1821.8" cy="589.5" r="5.5"/><circle cx="1813.4" cy="592.0" r="4.3"/><circle cx="1558.0" cy="426.7" r="7.5"/><circle cx="1558.1" cy="419.6" r="4.1"/><circle cx="1542.7" cy="413.6" r="5.5"/><circle cx="1893.2" cy="343.2" r="6.5"/><circle cx="1806.5" cy="537.1" r="7.5"/><circle cx="1706.5" cy="557.9" r="5.5"/><circle cx="1712.8" cy="233.8" r="7.5"/><circle cx="1716.0" cy="241.1" r="4.8"/><circle cx="1513.2" cy="160.6" r="7.5"/><circle cx="1838.4" cy="495.3" r="6.5"/><circle cx="1842.4" cy="489.8" r="4.9"/><circle cx="1694.4" cy="522.0" r="3.8"/><circle cx="1911.2" cy="382.5" r="6.5"/><circle cx="1749.2" cy="279.7" r="5"/><circle cx="1743.8" cy="274.6" r="4.7"/><circle cx="1734.9" cy="358.9" r="3.8"/><circle cx="1659.6" cy="599.8" r="4.5"/><circle cx="1796.5" cy="253.8" r="4.2"/><circle cx="1587.9" cy="380.7" r="7.5"/><circle cx="1633.9" cy="174.8" r="6.5"/><circle cx="1575.7" cy="301.3" r="6"/><circle cx="2001.4" cy="589.2" r="4.5"/><circle cx="1658.9" cy="603.5" r="6.5"/><circle cx="1657.8" cy="598.6" r="4.7"/><circle cx="1544.0" cy="220.3" r="4.2"/><circle cx="1548.0" cy="224.4" r="4.1"/><circle cx="1700.5" cy="622.6" r="6.5"/><circle cx="1656.5" cy="563.2" r="5.5"/><circle cx="1656.6" cy="555.2" r="5.5"/><circle cx="1858.0" cy="371.5" r="6"/><circle cx="1944.3" cy="370.9" r="6.5"/><circle cx="1845.6" cy="496.2" r="5.5"/><circle cx="1728.5" cy="568.5" r="5"/><circle cx="1980.6" cy="424.9" r="4.2"/><circle cx="1983.2" cy="431.9" r="4.1"/><circle cx="1599.6" cy="168.4" r="3.8"/><circle cx="1623.7" cy="231.6" r="3.8"/><circle cx="1697.8" cy="571.4" r="7.5"/><circle cx="2007.4" cy="463.0" r="4.2"/><circle cx="1829.6" cy="278.2" r="6.5"/><circle cx="1951.4" cy="588.0" r="6"/><circle cx="1953.4" cy="593.7" r="4.4"/><circle cx="1590.2" cy="161.6" r="7.5"/><circle cx="1591.2" cy="170.4" r="5.8"/><circle cx="1560.4" cy="173.7" r="3.8"/><circle cx="1645.7" cy="182.1" r="7.5"/><circle cx="1649.9" cy="329.6" r="3.8"/><circle cx="1640.1" cy="446.6" r="4.5"/><circle cx="1835.1" cy="389.6" r="3.8"/><circle cx="1838.8" cy="384.1" r="3.9"/><circle cx="1928.7" cy="580.1" r="3.8"/><circle cx="1934.9" cy="577.2" r="4.6"/><circle cx="1812.8" cy="508.0" r="4.5"/><circle cx="1807.4" cy="506.1" r="5.1"/><circle cx="1931.6" cy="635.4" r="6"/><circle cx="1936.7" cy="630.0" r="3.9"/><circle cx="1691.1" cy="201.7" r="5.5"/><circle cx="1766.0" cy="453.6" r="5"/><circle cx="1768.4" cy="446.5" r="5.4"/><circle cx="1835.2" cy="654.4" r="5"/><circle cx="1878.5" cy="648.8" r="3.8"/><circle cx="1922.9" cy="403.8" r="7.5"/><circle cx="1792.2" cy="654.8" r="4.2"/><circle cx="1754.1" cy="244.4" r="7.5"/><circle cx="1997.6" cy="554.0" r="3.8"/><circle cx="1585.8" cy="324.8" r="6"/><circle cx="1637.6" cy="179.2" r="7.5"/><circle cx="1713.9" cy="414.3" r="3.8"/><circle cx="1707.1" cy="416.9" r="5.5"/><circle cx="1544.0" cy="453.9" r="5.5"/><circle cx="1684.3" cy="193.2" r="6"/><circle cx="1682.8" cy="199.3" r="4.7"/><circle cx="2024.9" cy="532.4" r="4.2"/><circle cx="1843.3" cy="348.6" r="5.5"/><circle cx="1566.8" cy="486.1" r="5"/><circle cx="1946.1" cy="645.7" r="4.5"/><circle cx="1948.4" cy="638.9" r="5.4"/><circle cx="1544.6" cy="470.3" r="4.2"/><circle cx="1790.6" cy="246.8" r="5"/><circle cx="1785.2" cy="251.4" r="3.5"/><circle cx="1793.4" cy="307.0" r="5"/><circle cx="1530.4" cy="221.8" r="6.5"/><circle cx="1752.4" cy="232.9" r="7.5"/><circle cx="1686.1" cy="420.9" r="6"/><circle cx="1680.5" cy="417.1" r="3.7"/><circle cx="1939.3" cy="485.8" r="4.2"/><circle cx="1940.4" cy="479.5" r="4.6"/><circle cx="1887.1" cy="526.1" r="3.8"/><circle cx="1878.2" cy="525.5" r="3.9"/><circle cx="1861.2" cy="381.2" r="4.2"/><circle cx="1863.3" cy="373.1" r="5.3"/><circle cx="1775.0" cy="241.3" r="4.5"/><circle cx="1834.1" cy="261.5" r="3.8"/><circle cx="1764.5" cy="295.6" r="3.8"/><circle cx="1832.7" cy="483.2" r="6"/><circle cx="1593.5" cy="522.0" r="3.8"/><circle cx="1598.9" cy="348.3" r="5"/><circle cx="1988.0" cy="464.5" r="7.5"/><circle cx="1851.7" cy="395.0" r="7.5"/><circle cx="1544.1" cy="198.2" r="6"/><circle cx="1550.6" cy="196.1" r="5.9"/><circle cx="1576.6" cy="430.4" r="7.5"/><circle cx="1930.8" cy="596.4" r="6.5"/><circle cx="1537.9" cy="156.8" r="7.5"/><circle cx="1716.5" cy="297.4" r="5.5"/><circle cx="1593.3" cy="166.8" r="6"/><circle cx="1591.4" cy="159.4" r="5.4"/><circle cx="1640.2" cy="536.2" r="7.5"/><circle cx="1642.3" cy="541.1" r="5.6"/><circle cx="1945.0" cy="489.0" r="6"/><circle cx="1629.6" cy="303.2" r="4.5"/><circle cx="1521.2" cy="201.2" r="5"/><circle cx="1634.2" cy="447.8" r="6"/><circle cx="1688.4" cy="193.5" r="4.5"/><circle cx="1557.3" cy="424.5" r="3.8"/><circle cx="1554.6" cy="419.9" r="5.0"/><circle cx="1958.0" cy="407.9" r="6"/><circle cx="1723.5" cy="234.0" r="3.8"/><circle cx="1946.3" cy="502.1" r="4.2"/><circle cx="1605.7" cy="384.1" r="5.5"/><circle cx="1599.5" cy="389.8" r="4.6"/><circle cx="1677.9" cy="198.3" r="4.2"/><circle cx="1642.6" cy="597.9" r="4.5"/><circle cx="1647.5" cy="596.5" r="5.2"/><circle cx="1758.3" cy="358.7" r="5.5"/><circle cx="1759.5" cy="643.9" r="4.2"/><circle cx="1764.2" cy="639.1" r="3.7"/><circle cx="1573.0" cy="296.0" r="4.2"/><circle cx="1578.6" cy="292.4" r="5.3"/><circle cx="1799.9" cy="255.8" r="6"/><circle cx="1794.7" cy="251.0" r="4.7"/><circle cx="1785.6" cy="555.3" r="5"/><circle cx="1530.9" cy="212.8" r="6"/><circle cx="1914.1" cy="595.0" r="3.8"/><circle cx="1744.0" cy="359.1" r="5"/><circle cx="1747.4" cy="367.3" r="3.8"/><circle cx="1981.4" cy="492.4" r="3.8"/><circle cx="1594.5" cy="374.4" r="6"/><circle cx="1501.9" cy="177.6" r="7.5"/><circle cx="1680.4" cy="190.8" r="4.2"/><circle cx="1975.1" cy="568.5" r="5"/><circle cx="1729.4" cy="210.0" r="4.2"/><circle cx="1862.1" cy="623.0" r="4.5"/><circle cx="1644.7" cy="229.1" r="6.5"/><circle cx="1643.3" cy="328.4" r="6"/><circle cx="1917.4" cy="438.0" r="5"/><circle cx="1513.4" cy="182.6" r="4.5"/><circle cx="1824.1" cy="506.6" r="4.5"/><circle cx="1817.6" cy="502.3" r="5.2"/><circle cx="1650.5" cy="468.7" r="5.5"/><circle cx="1863.4" cy="311.2" r="4.5"/><circle cx="1792.9" cy="514.3" r="5"/><circle cx="1793.9" cy="508.0" r="4.0"/><circle cx="1572.5" cy="237.6" r="4.2"/><circle cx="1695.8" cy="632.9" r="4.5"/><circle cx="1733.3" cy="304.7" r="7.5"/><circle cx="1730.1" cy="311.5" r="5.7"/><circle cx="1749.8" cy="356.0" r="6.5"/><circle cx="1738.7" cy="641.1" r="6.5"/><circle cx="1735.1" cy="646.1" r="5.9"/><circle cx="1639.1" cy="179.7" r="4.5"/><circle cx="1599.2" cy="452.0" r="3.8"/><circle cx="1763.1" cy="340.9" r="4.5"/><circle cx="1554.0" cy="438.6" r="3.8"/><circle cx="1545.1" cy="438.7" r="3.9"/><circle cx="1983.8" cy="441.7" r="4.5"/><circle cx="1625.6" cy="166.4" r="7.5"/><circle cx="1588.3" cy="270.6" r="4.5"/><circle cx="1596.5" cy="267.9" r="5.7"/><circle cx="1961.2" cy="593.2" r="7.5"/><circle cx="1955.6" cy="592.3" r="4.5"/><circle cx="1756.1" cy="415.2" r="7.5"/><circle cx="1758.8" cy="419.7" r="3.8"/><circle cx="1660.3" cy="249.9" r="5"/><circle cx="1667.4" cy="253.1" r="5.0"/><circle cx="1934.9" cy="511.7" r="6.5"/><circle cx="1593.3" cy="376.7" r="5.5"/><circle cx="1598.9" cy="382.9" r="4.1"/><circle cx="1658.5" cy="276.5" r="4.2"/><circle cx="1631.9" cy="478.9" r="4.2"/><circle cx="1625.1" cy="478.6" r="4.4"/><circle cx="1697.1" cy="479.7" r="6.5"/><circle cx="1991.5" cy="598.8" r="5"/><circle cx="1998.4" cy="594.1" r="4.1"/><circle cx="1615.0" cy="169.7" r="3.8"/><circle cx="1568.4" cy="296.3" r="5"/><circle cx="1580.1" cy="424.2" r="7.5"/><circle cx="1568.7" cy="497.5" r="3.8"/><circle cx="1656.6" cy="178.7" r="4.5"/><circle cx="1516.9" cy="199.6" r="5.5"/><circle cx="1510.1" cy="196.9" r="3.5"/><circle cx="1771.4" cy="653.0" r="5"/><circle cx="2004.3" cy="468.6" r="4.5"/><circle cx="1703.0" cy="310.3" r="6.5"/><circle cx="1560.2" cy="488.4" r="4.5"/><circle cx="1964.3" cy="625.4" r="4.5"/><circle cx="1961.9" cy="620.3" r="4.2"/><circle cx="1750.8" cy="260.0" r="6"/></g><g fill-opacity=".72"><circle cx="1505.7" cy="178.4" r="11"/><circle cx="1529" cy="208.2" r="14"/><circle cx="1575.5" cy="162.4" r="8"/><circle cx="1550.8" cy="227.7" r="9"/><circle cx="1560" cy="229" r="8"/><circle cx="1573.7" cy="246" r="10"/><circle cx="1695" cy="195.6" r="10"/><circle cx="1718" cy="211.6" r="11.5"/><circle cx="1731.8" cy="214" r="10"/><circle cx="1737.5" cy="239" r="8"/><circle cx="1569" cy="293" r="11.5"/><circle cx="1570" cy="312.4" r="11.5"/><circle cx="1575" cy="324" r="9"/><circle cx="1655" cy="264.3" r="10"/><circle cx="1694" cy="277" r="11"/><circle cx="1699.7" cy="300" r="10"/><circle cx="1711" cy="310" r="10"/><circle cx="1609" cy="316" r="10"/><circle cx="1615" cy="345.7" r="11"/><circle cx="1501.5" cy="345.7" r="8.7"/><circle cx="1540.5" cy="390.3" r="15"/><circle cx="1541.6" cy="404" r="9"/><circle cx="1557.7" cy="379" r="8"/><circle cx="1571.4" cy="381" r="7"/><circle cx="1656" cy="411" r="10"/><circle cx="1654" cy="427" r="11.5"/><circle cx="1827" cy="262" r="8.7"/><circle cx="1799" cy="334" r="8.7"/><circle cx="1783" cy="398" r="8.7"/><circle cx="1812" cy="423.5" r="8"/><circle cx="1838" cy="302" r="8"/><circle cx="1850" cy="325" r="7"/><circle cx="1848" cy="337" r="7"/><circle cx="1927.5" cy="349" r="9"/><circle cx="1940" cy="365" r="9"/><circle cx="1946" cy="380" r="8"/><circle cx="1920.7" cy="372" r="9"/><circle cx="1877" cy="383" r="8"/><circle cx="1830" cy="417.6" r="6.5"/><circle cx="1909" cy="417.6" r="7.3"/><circle cx="1971" cy="460" r="7"/><circle cx="1981" cy="445" r="6"/><circle cx="1993" cy="475" r="7"/><circle cx="2009" cy="472.6" r="5"/><circle cx="2011" cy="496.7" r="5"/><circle cx="1956" cy="485" r="6"/><circle cx="1927.5" cy="494" r="6"/><circle cx="1935.6" cy="504.7" r="6"/><circle cx="2018" cy="525" r="7"/><circle cx="1635.6" cy="437" r="8"/><circle cx="1608" cy="446.4" r="9"/><circle cx="1671" cy="458" r="11"/><circle cx="1671" cy="487.7" r="26"/><circle cx="1654" cy="481" r="11.5"/><circle cx="1681.4" cy="476" r="11.5"/><circle cx="1690.5" cy="497" r="14"/><circle cx="1665" cy="499" r="11.5"/><circle cx="1630" cy="487.7" r="10"/><circle cx="1596.6" cy="501.4" r="12.5"/><circle cx="1592" cy="494.5" r="8"/><circle cx="1605.8" cy="513" r="7"/><circle cx="1547" cy="442" r="6"/><circle cx="1550.8" cy="455.6" r="6"/><circle cx="1555.4" cy="467" r="6.4"/><circle cx="1560" cy="476" r="6.4"/><circle cx="1564.5" cy="483" r="6.4"/><circle cx="1564.5" cy="493.4" r="5"/><circle cx="1711" cy="531" r="10"/><circle cx="1706.6" cy="544" r="9"/><circle cx="1740" cy="544" r="7"/><circle cx="1757" cy="520" r="9"/><circle cx="1766" cy="531" r="9"/><circle cx="1777.6" cy="542.6" r="9.6"/><circle cx="1775" cy="513" r="7"/><circle cx="1668.8" cy="566.7" r="7"/><circle cx="1665" cy="554" r="6"/><circle cx="1662" cy="542.6" r="6"/><circle cx="1670" cy="579" r="6"/><circle cx="1719" cy="563" r="7"/><circle cx="1762.7" cy="563" r="6"/><circle cx="1744.4" cy="601" r="10"/><circle cx="1767" cy="633" r="10"/><circle cx="1821" cy="613.7" r="10"/><circle cx="1830" cy="609" r="8"/><circle cx="1816.6" cy="634" r="7"/><circle cx="1844" cy="545" r="8"/><circle cx="1721.5" cy="448.7" r="6"/><circle cx="1703" cy="446.4" r="6.4"/><circle cx="1715.7" cy="501.4" r="6.5"/><circle cx="1948" cy="632.5" r="17"/><circle cx="1964" cy="608.5" r="12.6"/><circle cx="1993" cy="597" r="7"/><circle cx="2000" cy="583" r="8"/><circle cx="2006.6" cy="574" r="7.3"/><circle cx="2013.5" cy="560" r="6.4"/><circle cx="2006.6" cy="549" r="5.7"/><circle cx="2016" cy="535" r="7"/><circle cx="2017" cy="514.5" r="5.7"/><circle cx="1965" cy="546.6" r="5"/><circle cx="1971" cy="553.5" r="5.7"/><circle cx="1977" cy="562.7" r="5.7"/><circle cx="1979" cy="574" r="5.7"/><circle cx="1975.7" cy="585.6" r="5"/><circle cx="1885" cy="608.5" r="17"/><circle cx="1878" cy="610.8" r="10"/><circle cx="1896.6" cy="606" r="10"/><circle cx="1871.4" cy="583" r="11"/><circle cx="1864.5" cy="566" r="8"/><circle cx="1778.6" cy="542" r="10"/><circle cx="1761.5" cy="530.6" r="11"/><circle cx="1761.5" cy="565" r="7"/><circle cx="1823.3" cy="613" r="11.5"/><circle cx="1988" cy="455" r="5.7"/><circle cx="1485.5" cy="570" r="9"/><circle cx="1531" cy="577" r="10"/><circle cx="1513" cy="570" r="6"/><circle cx="1494.7" cy="563" r="4.6"/><circle cx="1485.5" cy="570" r="9"/><circle cx="1531" cy="577" r="10"/><circle cx="1513" cy="570" r="6"/><circle cx="1494.7" cy="563" r="4.6"/></g></g>
<mask id="dm" maskUnits="userSpaceOnUse" x="1430" y="100" width="660" height="600"><use href="#dots"/></mask>
<mask id="dm2" maskUnits="userSpaceOnUse" x="1430" y="100" width="660" height="600"><use href="#dots" stroke="#fff" stroke-width="1.8" stroke-opacity=".62"/><use href="#dots" opacity=".5"/></mask>
<linearGradient id="f1" gradientUnits="userSpaceOnUse" x1="1495" y1="380" x2="2030" y2="520"><stop offset="0" stop-color="#9fda3a"/><stop offset="0.45" stop-color="#a8db33"/><stop offset="0.75" stop-color="#c5e021"/><stop offset="0.92" stop-color="#ece51b"/><stop offset="1" stop-color="#fde725"/></linearGradient>
<radialGradient id="f1g" gradientUnits="userSpaceOnUse" cx="1785" cy="565" r="95"><stop offset="0" stop-color="#7ad151"/><stop offset="0.35" stop-color="#7ad151"/><stop offset="1" stop-color="#7ad151" stop-opacity="0"/></radialGradient>
<radialGradient id="f1h" gradientUnits="userSpaceOnUse" cx="1946" cy="634" r="26"><stop offset="0" stop-color="#a5db36"/><stop offset="0.75" stop-color="#a5db36"/><stop offset="1" stop-color="#a5db36" stop-opacity="0"/></radialGradient>
<radialGradient id="f1e" gradientUnits="userSpaceOnUse" cx="1530" cy="210" r="48"><stop offset="0" stop-color="#5ec962"/><stop offset="0.45" stop-color="#5ec962"/><stop offset="1" stop-color="#5ec962" stop-opacity="0"/></radialGradient>
<radialGradient id="f1f" gradientUnits="userSpaceOnUse" cx="1655" cy="420" r="50"><stop offset="0" stop-color="#4fc46a"/><stop offset="0.4" stop-color="#4fc46a"/><stop offset="1" stop-color="#4fc46a" stop-opacity="0"/></radialGradient>
<radialGradient id="f1a" gradientUnits="userSpaceOnUse" cx="1668" cy="485" r="85"><stop offset="0" stop-color="#2db27d"/><stop offset="0.42" stop-color="#2db27d"/><stop offset="1" stop-color="#2db27d" stop-opacity="0"/></radialGradient>
<radialGradient id="f1b" gradientUnits="userSpaceOnUse" cx="1565" cy="310" r="80"><stop offset="0" stop-color="#5ec962"/><stop offset="0.35" stop-color="#5ec962"/><stop offset="1" stop-color="#5ec962" stop-opacity="0"/></radialGradient>
<radialGradient id="f1c" gradientUnits="userSpaceOnUse" cx="1545" cy="395" r="55"><stop offset="0" stop-color="#7fd34e"/><stop offset="0.35" stop-color="#7fd34e"/><stop offset="1" stop-color="#7fd34e" stop-opacity="0"/></radialGradient>
<radialGradient id="f1d" gradientUnits="userSpaceOnUse" cx="2025" cy="560" r="80"><stop offset="0" stop-color="#fde725"/><stop offset="0.35" stop-color="#fde725"/><stop offset="1" stop-color="#fde725" stop-opacity="0"/></radialGradient>
<linearGradient id="f2" gradientUnits="userSpaceOnUse" x1="1495" y1="380" x2="2030" y2="520"><stop offset="0" stop-color="#3d6aa8"/><stop offset="0.45" stop-color="#2c8a9e"/><stop offset="0.8" stop-color="#27a08e"/><stop offset="1" stop-color="#2fb57c"/></linearGradient>
<radialGradient id="f2a" gradientUnits="userSpaceOnUse" cx="1668" cy="485" r="100"><stop offset="0" stop-color="#4058ad"/><stop offset="0.4" stop-color="#4058ad"/><stop offset="1" stop-color="#4058ad" stop-opacity="0"/></radialGradient>
<linearGradient id="f2c" gradientUnits="userSpaceOnUse" x1="1476" y1="0" x2="1543" y2="0"><stop offset="0" stop-color="#2ab59c"/><stop offset="0.5" stop-color="#3a6fb0"/><stop offset="1" stop-color="#5a2a9a"/></linearGradient>
<linearGradient id="f4" gradientUnits="userSpaceOnUse" x1="1495" y1="380" x2="2030" y2="520"><stop offset="0" stop-color="#2fae98"/><stop offset="0.45" stop-color="#35b283"/><stop offset="0.75" stop-color="#5ec962"/><stop offset="0.92" stop-color="#b5de2b"/><stop offset="1" stop-color="#e5e419"/></linearGradient>
<radialGradient id="f4d" gradientUnits="userSpaceOnUse" cx="1625" cy="300" r="100"><stop offset="0" stop-color="#2a94a4"/><stop offset="0.3" stop-color="#2a94a4"/><stop offset="1" stop-color="#2a94a4" stop-opacity="0"/></radialGradient>
<radialGradient id="f4e" gradientUnits="userSpaceOnUse" cx="1535" cy="205" r="35"><stop offset="0" stop-color="#2a98a4"/><stop offset="0.5" stop-color="#2a98a4"/><stop offset="1" stop-color="#2a98a4" stop-opacity="0"/></radialGradient>
<radialGradient id="f4f" gradientUnits="userSpaceOnUse" cx="1570" cy="150" r="60"><stop offset="0" stop-color="#45c07c"/><stop offset="0.4" stop-color="#45c07c"/><stop offset="1" stop-color="#45c07c" stop-opacity="0"/></radialGradient>
<radialGradient id="f4a" gradientUnits="userSpaceOnUse" cx="1668" cy="485" r="95"><stop offset="0" stop-color="#2f7fae"/><stop offset="0.4" stop-color="#2f7fae"/><stop offset="1" stop-color="#2f7fae" stop-opacity="0"/></radialGradient>
<radialGradient id="f4b" gradientUnits="userSpaceOnUse" cx="1715" cy="205" r="70"><stop offset="0" stop-color="#7ad151"/><stop offset="0.35" stop-color="#7ad151"/><stop offset="1" stop-color="#7ad151" stop-opacity="0"/></radialGradient>
<radialGradient id="f4c" gradientUnits="userSpaceOnUse" cx="2010" cy="590" r="60"><stop offset="0" stop-color="#e5e419"/><stop offset="0.35" stop-color="#e5e419"/><stop offset="1" stop-color="#e5e419" stop-opacity="0"/></radialGradient>
<linearGradient id="f5" gradientUnits="userSpaceOnUse" x1="1495" y1="380" x2="2030" y2="520"><stop offset="0" stop-color="#30a38e"/><stop offset="0.45" stop-color="#35ab84"/><stop offset="1" stop-color="#55c667"/></linearGradient>
<radialGradient id="f5a" gradientUnits="userSpaceOnUse" cx="1540" cy="395" r="75"><stop offset="0" stop-color="#3a6db0"/><stop offset="0.45" stop-color="#3a6db0"/><stop offset="1" stop-color="#3a6db0" stop-opacity="0"/></radialGradient>
<radialGradient id="f5b" gradientUnits="userSpaceOnUse" cx="1568" cy="305" r="65"><stop offset="0" stop-color="#2f7fb0"/><stop offset="0.4" stop-color="#2f7fb0"/><stop offset="1" stop-color="#2f7fb0" stop-opacity="0"/></radialGradient>
<radialGradient id="f5d" gradientUnits="userSpaceOnUse" cx="1555" cy="465" r="60"><stop offset="0" stop-color="#2c8fa8"/><stop offset="0.4" stop-color="#2c8fa8"/><stop offset="1" stop-color="#2c8fa8" stop-opacity="0"/></radialGradient>
<radialGradient id="f5e" gradientUnits="userSpaceOnUse" cx="1668" cy="485" r="70"><stop offset="0" stop-color="#2aa39a"/><stop offset="0.4" stop-color="#2aa39a"/><stop offset="1" stop-color="#2aa39a" stop-opacity="0"/></radialGradient>
<linearGradient id="f5c" gradientUnits="userSpaceOnUse" x1="1476" y1="0" x2="1543" y2="0"><stop offset="0" stop-color="#e2e418"/><stop offset="0.5" stop-color="#b5de2b"/><stop offset="1" stop-color="#4ec36b"/></linearGradient>
<linearGradient id="f6" gradientUnits="userSpaceOnUse" x1="1560" y1="150" x2="1720" y2="660"><stop offset="0" stop-color="#4a0c6b"/><stop offset="0.2" stop-color="#4c2285"/><stop offset="0.34" stop-color="#4546a0"/><stop offset="0.48" stop-color="#3675b0"/><stop offset="0.68" stop-color="#2c8eac"/><stop offset="1" stop-color="#25a58a"/></linearGradient></defs>
<g id="panelA">
<text x="21.5" y="88.5" font-size="80" font-weight="bold" textLength="60.3" lengthAdjust="spacingAndGlyphs">A</text>
<g stroke="#000" stroke-width="2.9" stroke-dasharray="0 6.12" stroke-linecap="round" fill="none"><path d="M494.7 56V1135.2"/><path d="M596.2 56V1135.2"/><path d="M188 824.8H1265"/></g>
<g fill="#000"><circle cx="513.0" cy="564.3" r="7.6"/><circle cx="506.3" cy="587.2" r="7.6"/><circle cx="595.5" cy="617.5" r="7.6"/><circle cx="495.3" cy="682.7" r="7.6"/><circle cx="505.7" cy="685.5" r="7.6"/><circle cx="500.4" cy="704.5" r="7.6"/><circle cx="504.1" cy="742.3" r="7.6"/><circle cx="518.3" cy="743.5" r="7.6"/><circle cx="577.8" cy="756.1" r="7.6"/><circle cx="587.0" cy="753.8" r="7.6"/><circle cx="519.4" cy="772.1" r="7.6"/><circle cx="509.9" cy="796.0" r="7.6"/><circle cx="496.8" cy="802.9" r="7.6"/><circle cx="494.5" cy="808.6" r="7.6"/><circle cx="510.6" cy="814.4" r="7.6"/><circle cx="503.7" cy="817.8" r="7.6"/><circle cx="498.0" cy="823.5" r="7.6"/><circle cx="503.7" cy="829.3" r="7.6"/><circle cx="579.3" cy="810.9" r="7.6"/><circle cx="586.2" cy="822.4" r="7.6"/><circle cx="446.4" cy="825.8" r="7.6"/><circle cx="455.6" cy="831.5" r="7.6"/><circle cx="420.5" cy="833.2" r="7.6"/><circle cx="471.6" cy="837.3" r="7.6"/><circle cx="476.2" cy="843.0" r="7.6"/><circle cx="525.5" cy="836.1" r="7.6"/><circle cx="519.1" cy="846.4" r="7.6"/><circle cx="446.4" cy="844.1" r="7.6"/><circle cx="460.6" cy="846.4" r="7.6"/><circle cx="498.4" cy="841.9" r="7.6"/><circle cx="496.8" cy="848.7" r="7.6"/><circle cx="477.4" cy="853.3" r="7.6"/><circle cx="483.1" cy="859.0" r="7.6"/><circle cx="488.8" cy="864.8" r="7.6"/><circle cx="477.4" cy="866.6" r="7.6"/><circle cx="419.6" cy="859.7" r="7.6"/><circle cx="616.4" cy="853.3" r="7.6"/><circle cx="587.3" cy="860.2" r="7.6"/><circle cx="570.6" cy="864.3" r="7.6"/><circle cx="605.7" cy="864.3" r="7.6"/><circle cx="599.9" cy="868.2" r="7.6"/><circle cx="591.9" cy="871.6" r="7.6"/><circle cx="510.6" cy="865.2" r="7.6"/><circle cx="515.2" cy="873.9" r="7.6"/><circle cx="507.1" cy="877.4" r="7.6"/><circle cx="530.1" cy="879.7" r="7.6"/><circle cx="577.5" cy="876.2" r="7.6"/><circle cx="593.1" cy="876.2" r="7.6"/><circle cx="459.0" cy="876.2" r="7.6"/><circle cx="467.7" cy="881.9" r="7.6"/><circle cx="492.9" cy="880.8" r="7.6"/><circle cx="465.9" cy="888.8" r="7.6"/><circle cx="487.7" cy="891.1" r="7.6"/><circle cx="518.1" cy="891.1" r="7.6"/><circle cx="583.9" cy="886.5" r="7.6"/><circle cx="579.3" cy="893.4" r="7.6"/><circle cx="597.0" cy="895.0" r="7.6"/><circle cx="454.5" cy="894.5" r="7.6"/><circle cx="500.3" cy="900.3" r="7.6"/><circle cx="570.6" cy="899.1" r="7.6"/><circle cx="571.3" cy="904.9" r="7.6"/><circle cx="515.2" cy="907.1" r="7.6"/><circle cx="477.8" cy="906.5" r="7.6"/><circle cx="660.0" cy="878.1" r="7.6"/><circle cx="467.1" cy="917.5" r="7.6"/><circle cx="501.4" cy="916.3" r="7.6"/><circle cx="517.5" cy="917.5" r="7.6"/><circle cx="525.5" cy="926.6" r="7.6"/><circle cx="576.6" cy="915.2" r="7.6"/><circle cx="613.7" cy="912.4" r="7.6"/><circle cx="626.7" cy="920.9" r="7.6"/><circle cx="501.4" cy="926.6" r="7.6"/><circle cx="494.5" cy="933.5" r="7.6"/><circle cx="572.4" cy="931.2" r="7.6"/><circle cx="596.5" cy="928.5" r="7.6"/><circle cx="510.6" cy="938.1" r="7.6"/><circle cx="507.1" cy="943.8" r="7.6"/><circle cx="521.6" cy="953.0" r="7.6"/><circle cx="557.5" cy="943.8" r="7.6"/><circle cx="558.2" cy="953.7" r="7.6"/><circle cx="573.6" cy="956.4" r="7.6"/><circle cx="574.3" cy="963.3" r="7.6"/><circle cx="629.0" cy="946.1" r="7.6"/><circle cx="621.7" cy="955.3" r="7.6"/><circle cx="500.7" cy="961.7" r="7.6"/><circle cx="533.5" cy="972.4" r="7.6"/><circle cx="516.3" cy="976.6" r="7.6"/><circle cx="557.5" cy="970.1" r="7.6"/><circle cx="504.9" cy="982.7" r="7.6"/><circle cx="564.4" cy="977.0" r="7.6"/><circle cx="526.6" cy="986.2" r="7.6"/><circle cx="555.9" cy="985.5" r="7.6"/><circle cx="500.7" cy="994.2" r="7.6"/><circle cx="571.3" cy="993.1" r="7.6"/><circle cx="526.6" cy="1003.4" r="7.6"/><circle cx="518.6" cy="1011.4" r="7.6"/><circle cx="528.9" cy="1013.7" r="7.6"/><circle cx="554.1" cy="1013.7" r="7.6"/><circle cx="563.3" cy="1009.1" r="7.6"/><circle cx="574.7" cy="1013.7" r="7.6"/><circle cx="572.4" cy="1003.4" r="7.6"/><circle cx="520.9" cy="1024.0" r="7.6"/><circle cx="535.8" cy="1027.4" r="7.6"/><circle cx="526.6" cy="1029.7" r="7.6"/><circle cx="551.8" cy="1028.6" r="7.6"/><circle cx="570.6" cy="1028.6" r="7.6"/><circle cx="538.1" cy="1038.9" r="7.6"/><circle cx="554.1" cy="1043.5" r="7.6"/><circle cx="538.1" cy="1046.9" r="7.6"/><circle cx="555.3" cy="1046.9" r="7.6"/><circle cx="544.9" cy="1052.6" r="7.6"/><circle cx="542.7" cy="1059.5" r="7.6"/><circle cx="549.5" cy="1061.8" r="7.6"/><circle cx="544.9" cy="1068.7" r="7.6"/><circle cx="531.2" cy="979.3" r="7.6"/><circle cx="519.7" cy="983.9" r="7.6"/><circle cx="531.2" cy="993.1" r="7.6"/><circle cx="558.7" cy="979.3" r="7.6"/><circle cx="567.9" cy="986.2" r="7.6"/><circle cx="526.6" cy="1018.3" r="7.6"/><circle cx="563.3" cy="1018.3" r="7.6"/><circle cx="547.2" cy="1034.3" r="7.6"/><circle cx="531.2" cy="1034.3" r="7.6"/><circle cx="546.1" cy="1043.5" r="7.6"/><circle cx="550.7" cy="1054.9" r="7.6"/></g>
<g fill="#7f00ff"><circle cx="486.2" cy="513.2" r="7.6"/><circle cx="395.7" cy="555.6" r="7.6"/><circle cx="485.0" cy="567.1" r="7.6"/><circle cx="410.6" cy="576.7" r="7.6"/><circle cx="349.9" cy="587.2" r="7.6"/><circle cx="392.3" cy="595.7" r="7.6"/><circle cx="395.7" cy="601.4" r="7.6"/><circle cx="450.7" cy="606.7" r="7.6"/><circle cx="480.5" cy="595.7" r="7.6"/><circle cx="489.6" cy="603.3" r="7.6"/><circle cx="382.6" cy="624.3" r="7.6"/><circle cx="483.9" cy="626.2" r="7.6"/><circle cx="433.0" cy="641.5" r="7.6"/><circle cx="438.1" cy="644.9" r="7.6"/><circle cx="443.8" cy="648.4" r="7.6"/><circle cx="470.1" cy="639.7" r="7.6"/><circle cx="493.1" cy="653.7" r="7.6"/><circle cx="487.3" cy="657.5" r="7.6"/><circle cx="475.2" cy="659.8" r="7.6"/><circle cx="460.3" cy="667.4" r="7.6"/><circle cx="486.2" cy="667.9" r="7.6"/><circle cx="385.8" cy="670.1" r="7.6"/><circle cx="462.1" cy="679.3" r="7.6"/><circle cx="459.8" cy="688.5" r="7.6"/><circle cx="472.4" cy="685.0" r="7.6"/><circle cx="409.4" cy="684.6" r="7.6"/><circle cx="418.6" cy="686.2" r="7.6"/><circle cx="428.5" cy="688.5" r="7.6"/><circle cx="404.2" cy="704.1" r="7.6"/><circle cx="426.6" cy="705.7" r="7.6"/><circle cx="440.4" cy="704.5" r="7.6"/><circle cx="422.0" cy="711.4" r="7.6"/><circle cx="431.2" cy="719.4" r="7.6"/><circle cx="420.9" cy="720.5" r="7.6"/><circle cx="463.3" cy="714.8" r="7.6"/><circle cx="472.4" cy="716.0" r="7.6"/><circle cx="376.2" cy="718.3" r="7.6"/><circle cx="395.2" cy="724.0" r="7.6"/><circle cx="480.9" cy="729.7" r="7.6"/><circle cx="318.5" cy="741.2" r="7.6"/><circle cx="359.7" cy="743.5" r="7.6"/><circle cx="411.7" cy="741.2" r="7.6"/><circle cx="419.7" cy="743.5" r="7.6"/><circle cx="428.9" cy="743.5" r="7.6"/><circle cx="441.5" cy="735.4" r="7.6"/><circle cx="440.4" cy="745.8" r="7.6"/><circle cx="449.5" cy="743.5" r="7.6"/><circle cx="456.4" cy="741.2" r="7.6"/><circle cx="467.9" cy="741.2" r="7.6"/><circle cx="470.1" cy="750.3" r="7.6"/><circle cx="461.0" cy="752.6" r="7.6"/><circle cx="451.8" cy="752.6" r="7.6"/><circle cx="440.4" cy="754.9" r="7.6"/><circle cx="428.9" cy="754.9" r="7.6"/><circle cx="417.5" cy="752.6" r="7.6"/><circle cx="408.3" cy="754.9" r="7.6"/><circle cx="422.0" cy="764.1" r="7.6"/><circle cx="467.9" cy="759.5" r="7.6"/><circle cx="435.8" cy="750.3" r="7.6"/><circle cx="426.6" cy="749.2" r="7.6"/><circle cx="461.0" cy="745.8" r="7.6"/><circle cx="395.2" cy="758.4" r="7.6"/><circle cx="490.8" cy="749.2" r="7.6"/><circle cx="494.2" cy="746.9" r="7.6"/><circle cx="489.6" cy="754.9" r="7.6"/><circle cx="447.2" cy="775.5" r="7.6"/><circle cx="454.1" cy="766.4" r="7.6"/><circle cx="463.3" cy="775.5" r="7.6"/><circle cx="471.3" cy="772.1" r="7.6"/><circle cx="458.7" cy="782.4" r="7.6"/><circle cx="480.5" cy="787.0" r="7.6"/><circle cx="422.0" cy="796.2" r="7.6"/><circle cx="430.1" cy="790.4" r="7.6"/><circle cx="454.1" cy="793.9" r="7.6"/><circle cx="429.3" cy="790.3" r="7.6"/><circle cx="422.4" cy="796.5" r="7.6"/><circle cx="453.3" cy="793.7" r="7.6"/><circle cx="480.8" cy="786.9" r="7.6"/><circle cx="464.8" cy="800.6" r="7.6"/><circle cx="473.9" cy="799.5" r="7.6"/><circle cx="483.1" cy="798.3" r="7.6"/><circle cx="455.6" cy="805.2" r="7.6"/><circle cx="467.1" cy="808.6" r="7.6"/><circle cx="478.5" cy="809.8" r="7.6"/><circle cx="453.3" cy="814.4" r="7.6"/><circle cx="464.8" cy="814.4" r="7.6"/><circle cx="478.5" cy="814.4" r="7.6"/><circle cx="448.7" cy="780.0" r="7.6"/><circle cx="460.2" cy="780.0" r="7.6"/><circle cx="471.6" cy="782.3" r="7.6"/></g>
<g fill="#177d0e"><circle cx="664.9" cy="555.6" r="7.6"/><circle cx="662.1" cy="567.1" r="7.6"/><circle cx="659.2" cy="601.4" r="7.6"/><circle cx="669.5" cy="607.1" r="7.6"/><circle cx="678.6" cy="608.3" r="7.6"/><circle cx="643.8" cy="610.1" r="7.6"/><circle cx="643.8" cy="632.3" r="7.6"/><circle cx="651.1" cy="646.6" r="7.6"/><circle cx="631.2" cy="651.1" r="7.6"/><circle cx="663.3" cy="667.4" r="7.6"/><circle cx="672.9" cy="685.7" r="7.6"/><circle cx="600.0" cy="706.8" r="7.6"/><circle cx="614.9" cy="714.1" r="7.6"/><circle cx="625.5" cy="704.5" r="7.6"/><circle cx="596.8" cy="741.2" r="7.6"/><circle cx="615.6" cy="735.4" r="7.6"/><circle cx="619.1" cy="746.9" r="7.6"/><circle cx="648.4" cy="734.3" r="7.6"/><circle cx="638.5" cy="754.9" r="7.6"/><circle cx="647.7" cy="750.3" r="7.6"/><circle cx="598.4" cy="772.8" r="7.6"/><circle cx="606.5" cy="772.8" r="7.6"/><circle cx="607.6" cy="798.4" r="7.6"/><circle cx="609.9" cy="795.0" r="7.6"/><circle cx="829.6" cy="404.7" r="7.6"/><circle cx="841.8" cy="416.0" r="7.6"/><circle cx="884.6" cy="416.0" r="7.6"/><circle cx="890.3" cy="416.0" r="7.6"/><circle cx="997.3" cy="420.1" r="7.6"/><circle cx="897.7" cy="436.6" r="7.6"/><circle cx="925.8" cy="445.5" r="7.6"/><circle cx="852.5" cy="446.0" r="7.6"/><circle cx="835.8" cy="449.9" r="7.6"/><circle cx="888.0" cy="453.3" r="7.6"/><circle cx="774.9" cy="449.9" r="7.6"/><circle cx="774.9" cy="471.6" r="7.6"/><circle cx="888.7" cy="487.7" r="7.6"/><circle cx="801.7" cy="494.1" r="7.6"/><circle cx="765.9" cy="498.7" r="7.6"/><circle cx="902.2" cy="525.5" r="7.6"/><circle cx="807.2" cy="520.9" r="7.6"/><circle cx="796.9" cy="528.9" r="7.6"/><circle cx="779.7" cy="524.3" r="7.6"/><circle cx="756.3" cy="535.8" r="7.6"/><circle cx="750.6" cy="551.4" r="7.6"/><circle cx="850.2" cy="567.2" r="7.6"/><circle cx="908.4" cy="571.3" r="7.6"/><circle cx="710.5" cy="566.7" r="7.6"/><circle cx="705.9" cy="573.1" r="7.6"/><circle cx="694.9" cy="578.2" r="7.6"/><circle cx="686.2" cy="566.3" r="7.6"/><circle cx="691.5" cy="610.2" r="7.6"/><circle cx="686.0" cy="625.1" r="7.6"/><circle cx="688.0" cy="656.1" r="7.6"/><circle cx="697.9" cy="657.7" r="7.6"/><circle cx="704.8" cy="666.8" r="7.6"/><circle cx="705.5" cy="673.2" r="7.6"/><circle cx="801.0" cy="639.6" r="7.6"/><circle cx="793.4" cy="653.8" r="7.6"/><circle cx="744.4" cy="704.6" r="7.6"/><circle cx="690.1" cy="761.5" r="7.6"/><circle cx="924.6" cy="91.8" r="7.6"/><circle cx="1164.3" cy="107.6" r="7.6"/><circle cx="1163.2" cy="125.8" r="7.6"/><circle cx="954.1" cy="238.5" r="7.6"/><circle cx="915.0" cy="261.2" r="7.6"/><circle cx="1129.7" cy="273.7" r="7.6"/><circle cx="917.3" cy="321.8" r="7.6"/><circle cx="1022.1" cy="375.1" r="7.6"/><circle cx="609.8" cy="796.0" r="7.6"/><circle cx="606.8" cy="800.6" r="7.6"/></g>
<g stroke="#000" stroke-width="5" fill="none" stroke-linecap="butt"><path d="M185.8 54.4V1137.7"/><path d="M169.8 1135.2H1267.1"/><path d="M169.8 56.9H185.8"/><path d="M169.8 191.7H185.8"/><path d="M169.8 326.5H185.8"/><path d="M169.8 461.3H185.8"/><path d="M169.8 596.0H185.8"/><path d="M169.8 730.8H185.8"/><path d="M169.8 865.6H185.8"/><path d="M169.8 1000.4H185.8"/><path d="M185.8 1135.2V1151"/><path d="M245.7 1135.2V1145.5"/><path d="M305.7 1135.2V1151"/><path d="M365.6 1135.2V1145.5"/><path d="M425.5 1135.2V1151"/><path d="M485.5 1135.2V1145.5"/><path d="M545.4 1135.2V1151"/><path d="M605.3 1135.2V1145.5"/><path d="M665.3 1135.2V1151"/><path d="M725.2 1135.2V1145.5"/><path d="M785.1 1135.2V1151"/><path d="M845.1 1135.2V1145.5"/><path d="M905.0 1135.2V1151"/><path d="M964.9 1135.2V1145.5"/><path d="M1024.9 1135.2V1151"/><path d="M1084.8 1135.2V1145.5"/><path d="M1144.7 1135.2V1151"/><path d="M1204.7 1135.2V1145.5"/><path d="M1264.6 1135.2V1151"/></g>
<g font-weight="bold" font-size="23" text-anchor="end"><text x="166.5" y="65.5">10<tspan font-size="17" dy="-8">–8</tspan></text><text x="166.5" y="200.3">10<tspan font-size="17" dy="-8">–7</tspan></text><text x="166.5" y="335.1">10<tspan font-size="17" dy="-8">–6</tspan></text><text x="166.5" y="469.9">10<tspan font-size="17" dy="-8">–5</tspan></text><text x="166.5" y="604.6">10<tspan font-size="17" dy="-8">–4</tspan></text><text x="166.5" y="739.4">10<tspan font-size="17" dy="-8">–3</tspan></text><text x="166.5" y="874.2">10<tspan font-size="17" dy="-8">–2</tspan></text><text x="166.5" y="1009.0">10<tspan font-size="17" dy="-8">–1</tspan></text><text x="166.5" y="1143.8">10<tspan font-size="17" dy="-8">0</tspan></text></g>
<g font-weight="bold" font-size="22.5" text-anchor="middle"><text x="185.8" y="1175.3">–6</text><text x="305.7" y="1175.3">–4</text><text x="425.5" y="1175.3">–2</text><text x="545.4" y="1175.3">0</text><text x="665.3" y="1175.3">2</text><text x="785.1" y="1175.3">4</text><text x="905.0" y="1175.3">6</text><text x="1024.9" y="1175.3">8</text><text x="1144.7" y="1175.3">10</text><text x="1264.6" y="1175.3">12</text></g>
<text x="725" y="1217.5" font-size="29" font-weight="bold" text-anchor="middle">log<tspan font-size="19" dy="7">2</tspan><tspan dy="-7">(Fold Change)</tspan></text>
<text transform="translate(113 582) rotate(-90)" font-size="23.3" font-weight="bold" text-anchor="middle"><tspan font-style="italic">q</tspan>-value</text>
<g font-size="20.5"><text x="929.2" y="78.2">TGFBI</text><text x="1168.3" y="93.5">CCL2</text><text x="1170.5" y="153">IL8</text><text x="959.2" y="225">IL1B</text><text x="858.4" y="250.4">LTBR</text><text x="1134.8" y="260.6">FN1</text><text x="922.4" y="309.3">C1S</text><text x="1028.3" y="361.5">CXCL1</text><text x="932" y="431.7">IL1A</text><text x="1001.7" y="445.9">CXCL2</text><text x="306" y="543.9">PDGFRB</text><text x="279.3" y="613.6">ITGAM</text><text x="234" y="729.2">TNFSF8</text></g>
</g>
<g id="panelB">
<text x="26" y="1297" font-size="74" font-weight="bold">B</text>
<g stroke="#b0b0b0" stroke-width="1.2"><path d="M795.6 1279.4V2007.3"/><path d="M908 1279.4V2007.3"/><path d="M1020.3 1279.4V2007.3"/><path d="M1132 1279.4V2007.3"/><path d="M751.7 1312.7H1221"/><path d="M751.7 1386.2H1221"/><path d="M751.7 1459.8H1221"/><path d="M751.7 1533.3H1221"/><path d="M751.7 1606.9H1221"/><path d="M751.7 1680.5H1221"/><path d="M751.7 1754.0H1221"/><path d="M751.7 1827.6H1221"/><path d="M751.7 1901.1H1221"/><path d="M751.7 1974.7H1221"/></g>
<g stroke="#000" stroke-width="1.2"><path d="M795.6 2007.3v6"/><path d="M908 2007.3v6"/><path d="M1020.3 2007.3v6"/><path d="M1132 2007.3v6"/><path d="M751.7 1312.7h-6"/><path d="M751.7 1386.2h-6"/><path d="M751.7 1459.8h-6"/><path d="M751.7 1533.3h-6"/><path d="M751.7 1606.9h-6"/><path d="M751.7 1680.5h-6"/><path d="M751.7 1754.0h-6"/><path d="M751.7 1827.6h-6"/><path d="M751.7 1901.1h-6"/><path d="M751.7 1974.7h-6"/></g>
<g class="dj" font-size="21" text-anchor="end"><text class="dj" x="741.8" y="1320.3">cytokine-mediated signaling pathway (GO:0019221)</text><text class="dj" x="741.8" y="1393.8">cellular response to interferon-gamma (GO:0071346)</text><text class="dj" x="741.8" y="1467.4">cellular response to cytokine stimulus (GO:0071345)</text><text class="dj" x="741.8" y="1540.9">interferon-gamma-mediated signaling pathway (GO:0060333)</text><text class="dj" x="741.8" y="1614.5">inflammatory response (GO:0006954)</text><text class="dj" x="741.8" y="1688.0">regulation of T cell proliferation (GO:0042129)</text><text class="dj" x="741.8" y="1761.6">positive regulation of cytokine production (GO:0001819)</text><text class="dj" x="741.8" y="1835.2">positive regulation of T cell activation (GO:0050870)</text><text class="dj" x="741.8" y="1908.7">regulation of cell population proliferation (GO:0042127)</text><text class="dj" x="741.8" y="1982.2">positive regulation of lymphocyte proliferation (GO:0050671)</text></g>
<circle cx="1142.1" cy="1312.7" r="30.2" fill="#fff" stroke="#666" stroke-width="1.2"/><circle cx="1142.1" cy="1312.7" r="9.5" fill="#fde725"/><circle cx="1125.4" cy="1386.2" r="30.2" fill="#fff" stroke="#666" stroke-width="1.2"/><circle cx="1125.4" cy="1386.2" r="20" fill="#26828e"/><circle cx="920.4" cy="1459.8" r="30.2" fill="#fff" stroke="#666" stroke-width="1.2"/><circle cx="920.4" cy="1459.8" r="7.7" fill="#2a7b8e"/><circle cx="1099.3" cy="1533.3" r="30.2" fill="#fff" stroke="#666" stroke-width="1.2"/><circle cx="1099.3" cy="1533.3" r="25.5" fill="#3c4f8a"/><circle cx="900.8" cy="1606.9" r="30.2" fill="#fff" stroke="#666" stroke-width="1.2"/><circle cx="900.8" cy="1606.9" r="10" fill="#404588"/><circle cx="998.3" cy="1680.5" r="30.2" fill="#fff" stroke="#666" stroke-width="1.2"/><circle cx="998.3" cy="1680.5" r="20.8" fill="#46307e"/><circle cx="853.9" cy="1754.0" r="30.2" fill="#fff" stroke="#666" stroke-width="1.2"/><circle cx="853.9" cy="1754.0" r="7.7" fill="#481d6f"/><circle cx="955.5" cy="1827.6" r="30.2" fill="#fff" stroke="#666" stroke-width="1.2"/><circle cx="955.5" cy="1827.6" r="19" fill="#471365"/><circle cx="829.5" cy="1901.1" r="30.2" fill="#fff" stroke="#666" stroke-width="1.2"/><circle cx="829.5" cy="1901.1" r="4.2" fill="#46085c"/><circle cx="916.9" cy="1974.7" r="30.2" fill="#fff" stroke="#666" stroke-width="1.2"/><circle cx="916.9" cy="1974.7" r="17" fill="#440154"/>
<rect x="751.7" y="1279.4" width="469.3" height="727.9" fill="none" stroke="#000" stroke-width="1.3"/>
<text class="dj" x="986.5" y="1271.5" font-size="26.2" font-weight="bold" text-anchor="middle">Gene Ontology Biological Process</text>
<text class="dj" transform="translate(801.9 2019) rotate(-90)" font-size="17.5" text-anchor="end">0</text><text class="dj" transform="translate(914.3 2019) rotate(-90)" font-size="17.5" text-anchor="end">1000</text><text class="dj" transform="translate(1026.6 2019) rotate(-90)" font-size="17.5" text-anchor="end">2000</text><text class="dj" transform="translate(1138.3 2019) rotate(-90)" font-size="17.5" text-anchor="end">3000</text>
<g class="dj" font-size="12.8"><text class="dj" x="1246" y="1373.3">% Genes</text><text class="dj" x="1246" y="1388.2">in set</text><circle cx="1254.4" cy="1403" r="7.7" fill="#808080"/><circle cx="1255" cy="1423.2" r="14.3" fill="#808080"/><circle cx="1255" cy="1442.8" r="20.8" fill="#808080"/><text class="dj" x="1278.7" y="1407.8">0.05</text><text class="dj" x="1278.7" y="1427.4">0.10</text><text class="dj" x="1278.7" y="1447">0.15</text></g>
<rect x="1250.8" y="1716.2" width="16.7" height="181.4" fill="url(#virV)"/><g class="dj" font-size="12.5"><path d="M1264.5 1741.7h3" stroke="#ddd" stroke-width="1"/><path d="M1267.5 1741.7h3" stroke="#000" stroke-width="1"/><text class="dj" x="1273.4" y="1746.3">70</text><path d="M1264.5 1773.2h3" stroke="#ddd" stroke-width="1"/><path d="M1267.5 1773.2h3" stroke="#000" stroke-width="1"/><text class="dj" x="1273.4" y="1777.8">60</text><path d="M1264.5 1804.7h3" stroke="#ddd" stroke-width="1"/><path d="M1267.5 1804.7h3" stroke="#000" stroke-width="1"/><text class="dj" x="1273.4" y="1809.3">50</text><path d="M1264.5 1836.2h3" stroke="#ddd" stroke-width="1"/><path d="M1267.5 1836.2h3" stroke="#000" stroke-width="1"/><text class="dj" x="1273.4" y="1840.8">40</text><path d="M1264.5 1867.1h3" stroke="#ddd" stroke-width="1"/><path d="M1267.5 1867.1h3" stroke="#000" stroke-width="1"/><text class="dj" x="1273.4" y="1871.6999999999998">30</text><path d="M1264.5 1897.6h3" stroke="#ddd" stroke-width="1"/><path d="M1267.5 1897.6h3" stroke="#000" stroke-width="1"/><text class="dj" x="1273.4" y="1902.1999999999998">20</text><text class="dj" x="1249.6" y="1708.4" font-size="15.2" font-style="italic">Log</text><text class="dj" x="1290" y="1700.3" font-size="10.5" font-style="italic" text-anchor="middle">1</text><path d="M1277.3 1703.2h25.4" stroke="#000" stroke-width=".9"/><text class="dj" x="1290" y="1714.6" font-size="10.8" font-style="italic" text-anchor="middle">Qval</text></g>
</g>
<g id="panelC">
<text x="1339" y="88.5" font-size="75" font-weight="bold">C</text>
<rect x="1412" y="29" width="2045" height="2046" fill="#000"/>
<rect x="2775" y="0" width="725" height="1357.4" fill="#fff"/>
<g transform="translate(0.0 0)"><g mask="url(#dm)"><rect x="1430" y="100" width="660" height="600" fill="url(#f1)"/><rect x="1430" y="100" width="660" height="600" fill="url(#f1g)" opacity=".75"/><rect x="1430" y="100" width="660" height="600" fill="url(#f1e)"/><rect x="1430" y="100" width="660" height="600" fill="url(#f1f)"/><rect x="1430" y="100" width="660" height="600" fill="url(#f1a)"/><rect x="1430" y="100" width="660" height="600" fill="url(#f1b)"/><rect x="1430" y="100" width="660" height="600" fill="url(#f1c)"/><rect x="1430" y="100" width="660" height="600" fill="url(#f1d)"/><rect x="1430" y="100" width="660" height="600" fill="url(#f1h)"/><rect x="1465" y="548" width="85" height="60" fill="#5c2090"/></g><text x="1752.7" y="100.2" font-size="63.5" fill="#fff" text-anchor="middle">CD8</text></g>
<g transform="translate(680.5 0)"><g mask="url(#dm)"><rect x="1430" y="100" width="660" height="600" fill="url(#f2)"/><rect x="1430" y="100" width="660" height="600" fill="url(#f2a)"/><rect x="1465" y="548" width="85" height="60" fill="url(#f2c)"/></g><text x="1752.7" y="100.2" font-size="63.5" fill="#fff" text-anchor="middle">CD40L</text></g>
<g transform="translate(0.0 681)"><g mask="url(#dm)"><rect x="1430" y="100" width="660" height="600" fill="#541a72"/></g><text x="1752.7" y="100.2" font-size="63.5" fill="#fff" text-anchor="middle">CD69</text></g>
<g transform="translate(680.5 681)"><g mask="url(#dm)"><rect x="1430" y="100" width="660" height="600" fill="url(#f4)"/><rect x="1430" y="100" width="660" height="600" fill="url(#f4f)"/><rect x="1430" y="100" width="660" height="600" fill="url(#f4d)" opacity=".7"/><rect x="1430" y="100" width="660" height="600" fill="url(#f4e)"/><rect x="1430" y="100" width="660" height="600" fill="url(#f4a)"/><rect x="1430" y="100" width="660" height="600" fill="url(#f4b)"/><rect x="1430" y="100" width="660" height="600" fill="url(#f4c)"/><rect x="1465" y="548" width="85" height="60" fill="#4b3a9c"/></g><text x="1752.7" y="100.2" font-size="63.5" fill="#fff" text-anchor="middle">CD107a</text></g>
<g transform="translate(0.0 1362)"><g mask="url(#dm)"><rect x="1430" y="100" width="660" height="600" fill="url(#f5)"/><rect x="1430" y="100" width="660" height="600" fill="url(#f5e)"/><rect x="1430" y="100" width="660" height="600" fill="url(#f5d)"/><rect x="1430" y="100" width="660" height="600" fill="url(#f5b)"/><rect x="1430" y="100" width="660" height="600" fill="url(#f5a)"/><circle cx="1948" cy="632.5" r="19" fill="#f4e61e"/><rect x="1465" y="548" width="85" height="60" fill="url(#f5c)"/><rect x="1485" y="330" width="32" height="32" fill="#5a1878"/></g><text x="1752.7" y="100.2" font-size="63.5" fill="#fff" text-anchor="middle">4-1BB</text></g>
<g transform="translate(680.5 1362)"><g mask="url(#dm)"><rect x="1430" y="100" width="660" height="600" fill="url(#f6)"/><rect x="1465" y="548" width="85" height="60" fill="url(#f5c)"/><rect x="1485" y="330" width="32" height="32" fill="#3b8fc0"/></g><text x="1752.7" y="100.2" font-size="63.5" fill="#fff" text-anchor="middle">FasL</text></g>
<g transform="translate(1361.0 1362)"><g mask="url(#dm2)"><rect x="1430" y="100" width="660" height="600" fill="#c0fc7c"/><polygon points="1430,100 1760,100 1681.5,190.5 1664,228 1629,271 1430,271" fill="#80fbf8"/><rect x="1465" y="548" width="85" height="60" fill="#fb807c"/><rect x="1485" y="330" width="32" height="32" fill="#bb80fa"/></g><text x="1752.7" y="100.2" font-size="63.5" fill="#fff" text-anchor="middle">Clusters</text></g>
<rect x="2668.3" y="31.9" width="105.7" height="290.1" fill="#2d323b" stroke="#1b1e24" stroke-width="2"/><rect x="2725.5" y="40.9" width="37.7" height="272.9" fill="url(#mapV)" stroke="#20242b" stroke-width="1"/><text x="2716" y="60.5" font-size="22" fill="#e4e6ea" text-anchor="end">max</text><text x="2716" y="310" font-size="22" fill="#e4e6ea" text-anchor="end">min</text>
<rect x="2779.5" y="33.3" width="103.5" height="290" fill="#fff" stroke="#dde4ee" stroke-width="1.5"/><rect x="2836" y="41.5" width="39.4" height="274.5" fill="none" stroke="#d5d8e2" stroke-width="1"/><rect x="2837.7" y="44.2" width="36" height="27.1" rx="1.5" fill="#f0e51e"/><rect x="2837.7" y="71.2" width="36" height="27.1" rx="1.5" fill="#8fd744"/><rect x="2837.7" y="98.2" width="36" height="27.1" rx="1.5" fill="#56c667"/><rect x="2837.7" y="125.3" width="36" height="27.1" rx="1.5" fill="#1fb499"/><rect x="2837.7" y="152.3" width="36" height="27.1" rx="1.5" fill="#00a4a8"/><rect x="2837.7" y="179.3" width="36" height="27.1" rx="1.5" fill="#1b8bb0"/><rect x="2837.7" y="206.3" width="36" height="27.1" rx="1.5" fill="#1f72b4"/><rect x="2837.7" y="233.3" width="36" height="27.1" rx="1.5" fill="#3558b5"/><rect x="2837.7" y="260.4" width="36" height="27.1" rx="1.5" fill="#40389f"/><rect x="2837.7" y="287.4" width="36" height="27.1" rx="1.5" fill="#440f76"/><text x="2784.5" y="61.4" font-size="22" fill="#252a44">5.11</text><text x="2784.5" y="309" font-size="22" fill="#252a44">0.00</text>
<g stroke="#555" stroke-width="1.3" fill="none"><path d="M3039.6 159V53.8H3244.3V74"/><path d="M3156.6 159V74H3333V119.8"/><path d="M3273.6 159V119.8H3391V159"/></g>
<rect x="2980.2" y="159.0" width="117.8" height="179.8" fill="#8dd83a"/><rect x="3097.6" y="159.0" width="117.4" height="179.8" fill="#000"/><rect x="3214.6" y="159.0" width="116.9" height="179.8" fill="#9ade2e"/><rect x="3331.1" y="159.0" width="118.8" height="179.8" fill="#9ade2e"/><rect x="2980.2" y="338.4" width="117.8" height="179.8" fill="#1d70b0"/><rect x="3097.6" y="338.4" width="117.4" height="179.8" fill="#1d70b0"/><rect x="3214.6" y="338.4" width="116.9" height="179.8" fill="#1d70b0"/><rect x="3331.1" y="338.4" width="118.8" height="179.8" fill="#1d70b0"/><rect x="2980.2" y="517.9" width="117.8" height="179.8" fill="#000"/><rect x="3097.6" y="517.9" width="117.4" height="179.8" fill="#000"/><rect x="3214.6" y="517.9" width="116.9" height="179.8" fill="#000"/><rect x="3331.1" y="517.9" width="118.8" height="179.8" fill="#000"/><rect x="2980.2" y="697.3" width="117.8" height="179.8" fill="#3a48aa"/><rect x="3097.6" y="697.3" width="117.4" height="179.8" fill="#000"/><rect x="3214.6" y="697.3" width="116.9" height="179.8" fill="#3a48aa"/><rect x="3331.1" y="697.3" width="118.8" height="179.8" fill="#3a48aa"/><rect x="2980.2" y="876.7" width="117.8" height="179.8" fill="#000"/><rect x="3097.6" y="876.7" width="117.4" height="179.8" fill="#f2e814"/><rect x="3214.6" y="876.7" width="116.9" height="179.8" fill="#8dd83a"/><rect x="3331.1" y="876.7" width="118.8" height="179.8" fill="#8dd83a"/><rect x="2980.2" y="1056.2" width="117.8" height="179.8" fill="#40309a"/><rect x="3097.6" y="1056.2" width="117.4" height="179.8" fill="#8dd83a"/><rect x="3214.6" y="1056.2" width="116.9" height="179.8" fill="#1d70b0"/><rect x="3331.1" y="1056.2" width="118.8" height="179.8" fill="#000"/>
<g stroke="#4a4a55" stroke-width="1"><path d="M3097.6 517.9V697.3"/><path d="M3214.6 517.9V697.3"/><path d="M3331.1 517.9V697.3"/></g><g stroke="#5a3aa8" stroke-width="1" opacity=".7"><path d="M3097.6 338.4V517.9"/><path d="M3214.6 338.4V517.9"/><path d="M3331.1 338.4V517.9"/></g>
<g font-size="33.8" text-anchor="end"><text x="2971.3" y="255.2">CD8</text><text x="2971.3" y="437.8">CD40L</text><text x="2971.3" y="619">CD69</text><text x="2971.3" y="802.6">CD107a</text><text x="2971.3" y="977.4">4-1BB</text><text x="2971.3" y="1166.4">FasL</text></g>
<text x="2813.5" y="1313.3" font-size="46" font-style="italic" textLength="136.5" lengthAdjust="spacingAndGlyphs">Cluster</text><circle cx="3038.1" cy="1297.8" r="49" fill="#bb80fa"/><circle cx="3158.4" cy="1297.8" r="49" fill="#fb807c"/><circle cx="3277.6" cy="1297.8" r="49" fill="#c0fc7c"/><circle cx="3396.4" cy="1297.8" r="49" fill="#80fbf8"/>
</g>
</svg>
</body></html>
